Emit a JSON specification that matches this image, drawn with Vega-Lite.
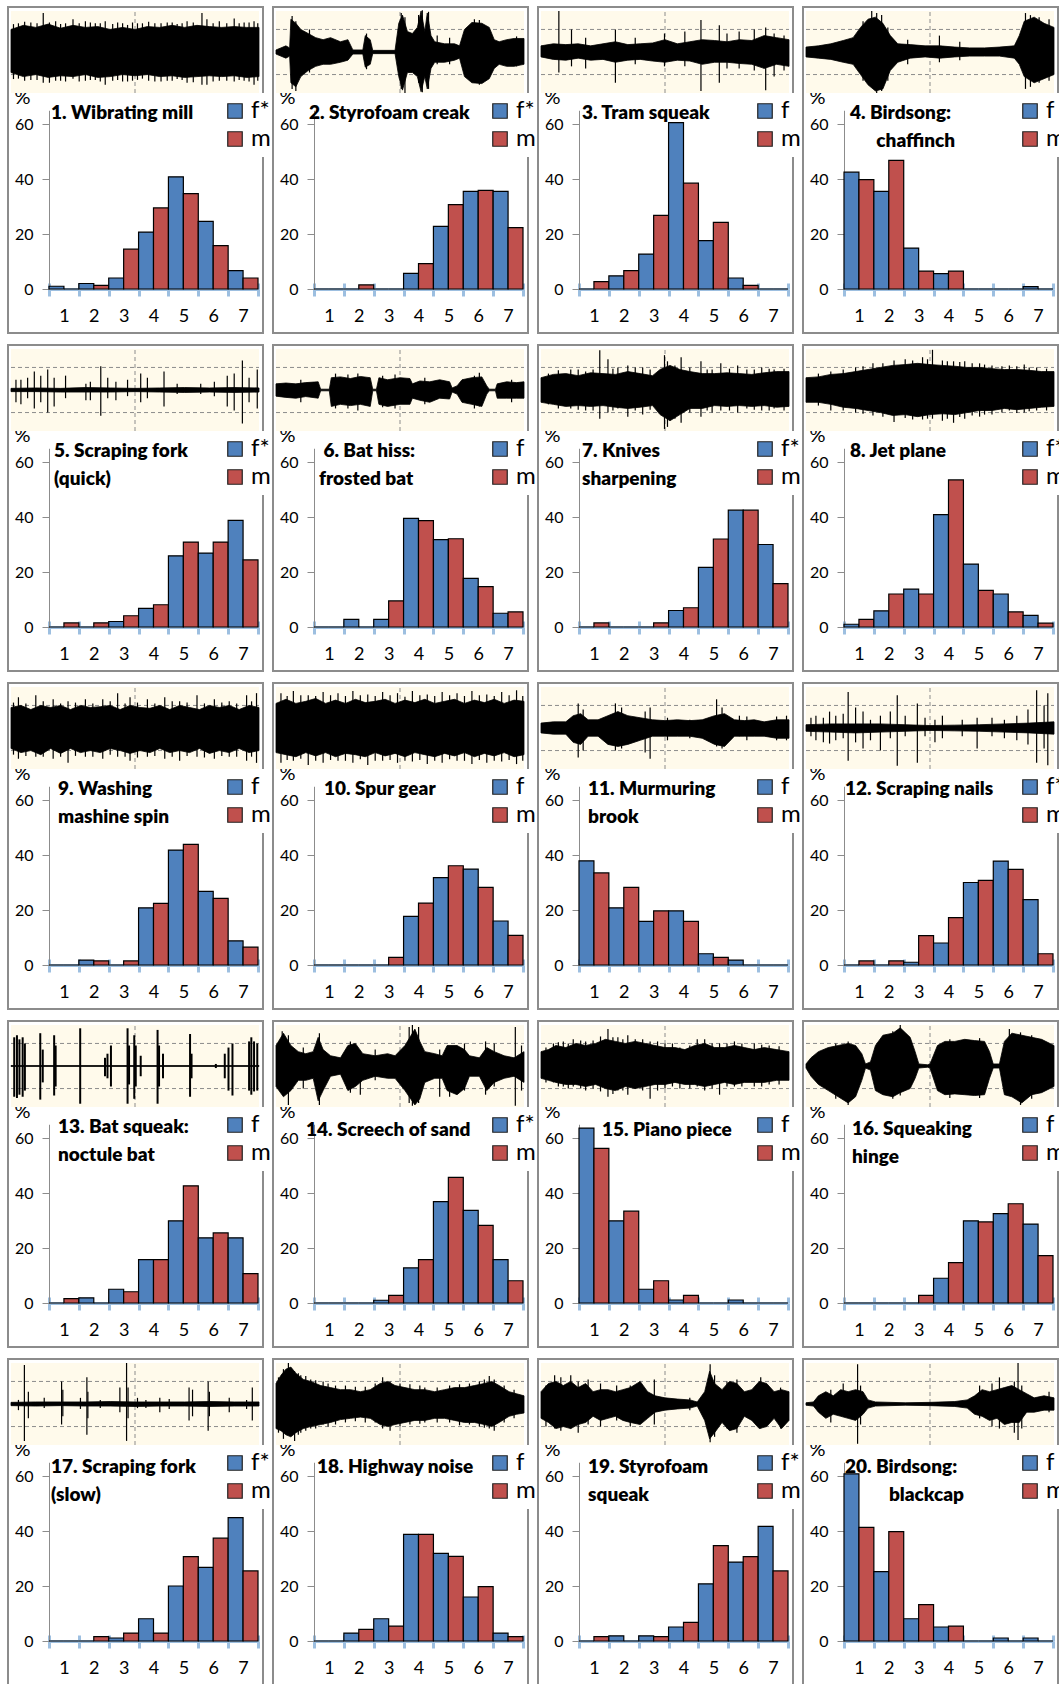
{"$schema":"https://vega.github.io/schema/vega-lite/v6.json",
"padding":{"left":7,"top":6,"right":0,"bottom":0},
"background":"#ffffff",
"bounds":"flush",
"datasets":{
"b":[
{"p":1,"c":1,"f":1,"m":0},{"p":1,"c":2,"f":2,"m":1.3},{"p":1,"c":3,"f":4,"m":14.5},{"p":1,"c":4,"f":20.7,"m":29.5},{"p":1,"c":5,"f":40.8,"m":34.7},{"p":1,"c":6,"f":24.6,"m":15.8},{"p":1,"c":7,"f":6.7,"m":4},
{"p":2,"c":1,"f":0,"m":0},{"p":2,"c":2,"f":0,"m":1.5},{"p":2,"c":3,"f":0,"m":0},{"p":2,"c":4,"f":5.7,"m":9.2},{"p":2,"c":5,"f":22.8,"m":30.7},{"p":2,"c":6,"f":35.5,"m":35.9},{"p":2,"c":7,"f":35.5,"m":22.3},
{"p":3,"c":1,"f":0,"m":2.7},{"p":3,"c":2,"f":4.8,"m":6.7},{"p":3,"c":3,"f":12.7,"m":26.8},{"p":3,"c":4,"f":60.5,"m":38.5},{"p":3,"c":5,"f":17.6,"m":24.2},{"p":3,"c":6,"f":4,"m":1.3},{"p":3,"c":7,"f":0,"m":0},
{"p":4,"c":1,"f":42.5,"m":39.8},{"p":4,"c":2,"f":35.5,"m":46.8},{"p":4,"c":3,"f":14.9,"m":6.5},{"p":4,"c":4,"f":5.6,"m":6.5},{"p":4,"c":5,"f":0,"m":0},{"p":4,"c":6,"f":0,"m":0},{"p":4,"c":7,"f":0.9,"m":0},
{"p":5,"c":1,"f":0,"m":1.5},{"p":5,"c":2,"f":0,"m":1.5},{"p":5,"c":3,"f":2,"m":4.1},{"p":5,"c":4,"f":6.8,"m":8.1},{"p":5,"c":5,"f":25.9,"m":30.9},{"p":5,"c":6,"f":26.9,"m":30.9},{"p":5,"c":7,"f":38.8,"m":24.4},
{"p":6,"c":1,"f":0,"m":0},{"p":6,"c":2,"f":2.8,"m":0},{"p":6,"c":3,"f":2.8,"m":9.5},{"p":6,"c":4,"f":39.5,"m":38.7},{"p":6,"c":5,"f":31.8,"m":32.1},{"p":6,"c":6,"f":17.7,"m":14.7},{"p":6,"c":7,"f":5,"m":5.5},
{"p":7,"c":1,"f":0,"m":1.5},{"p":7,"c":2,"f":0,"m":0},{"p":7,"c":3,"f":0,"m":1.5},{"p":7,"c":4,"f":6,"m":7},{"p":7,"c":5,"f":21.7,"m":32},{"p":7,"c":6,"f":42.5,"m":42.5},{"p":7,"c":7,"f":30,"m":15.8},
{"p":8,"c":1,"f":1,"m":2.8},{"p":8,"c":2,"f":5.9,"m":12},{"p":8,"c":3,"f":13.8,"m":12},{"p":8,"c":4,"f":40.9,"m":53.5},{"p":8,"c":5,"f":22.9,"m":13.3},{"p":8,"c":6,"f":12,"m":5.5},{"p":8,"c":7,"f":4.2,"m":1.4},
{"p":9,"c":1,"f":0,"m":0},{"p":9,"c":2,"f":1.8,"m":1.5},{"p":9,"c":3,"f":0,"m":1.5},{"p":9,"c":4,"f":20.8,"m":22.4},{"p":9,"c":5,"f":41.8,"m":43.9},{"p":9,"c":6,"f":26.8,"m":24.2},{"p":9,"c":7,"f":8.8,"m":6.5},
{"p":10,"c":1,"f":0,"m":0},{"p":10,"c":2,"f":0,"m":0},{"p":10,"c":3,"f":0,"m":2.8},{"p":10,"c":4,"f":17.7,"m":22.5},{"p":10,"c":5,"f":31.8,"m":36.1},{"p":10,"c":6,"f":34.9,"m":28.2},{"p":10,"c":7,"f":16,"m":10.8},
{"p":11,"c":1,"f":37.9,"m":33.5},{"p":11,"c":2,"f":20.8,"m":28.2},{"p":11,"c":3,"f":15.9,"m":19.7},{"p":11,"c":4,"f":19.7,"m":15.9},{"p":11,"c":5,"f":4.1,"m":2.8},{"p":11,"c":6,"f":1.8,"m":0},{"p":11,"c":7,"f":0,"m":0},
{"p":12,"c":1,"f":0,"m":1.5},{"p":12,"c":2,"f":0,"m":1.5},{"p":12,"c":3,"f":1,"m":10.7},{"p":12,"c":4,"f":8,"m":17.2},{"p":12,"c":5,"f":30,"m":30.8},{"p":12,"c":6,"f":37.8,"m":34.8},{"p":12,"c":7,"f":23.8,"m":4.1},
{"p":13,"c":1,"f":0,"m":1.6},{"p":13,"c":2,"f":1.9,"m":0},{"p":13,"c":3,"f":5,"m":4.1},{"p":13,"c":4,"f":15.8,"m":15.8},{"p":13,"c":5,"f":29.9,"m":42.6},{"p":13,"c":6,"f":23.7,"m":25.5},{"p":13,"c":7,"f":23.7,"m":10.7},
{"p":14,"c":1,"f":0,"m":0},{"p":14,"c":2,"f":0,"m":0},{"p":14,"c":3,"f":1,"m":2.8},{"p":14,"c":4,"f":12.8,"m":15.8},{"p":14,"c":5,"f":36.9,"m":45.7},{"p":14,"c":6,"f":33.7,"m":28.2},{"p":14,"c":7,"f":15.8,"m":8.1},
{"p":15,"c":1,"f":63.6,"m":56.2},{"p":15,"c":2,"f":29.9,"m":33.4},{"p":15,"c":3,"f":5,"m":8.1},{"p":15,"c":4,"f":1.1,"m":2.8},{"p":15,"c":5,"f":0,"m":0},{"p":15,"c":6,"f":1.1,"m":0},{"p":15,"c":7,"f":0,"m":0},
{"p":16,"c":1,"f":0,"m":0},{"p":16,"c":2,"f":0,"m":0},{"p":16,"c":3,"f":0,"m":2.8},{"p":16,"c":4,"f":9,"m":14.7},{"p":16,"c":5,"f":29.9,"m":29.5},{"p":16,"c":6,"f":32.5,"m":36.1},{"p":16,"c":7,"f":28.7,"m":17.2},
{"p":17,"c":1,"f":0,"m":0},{"p":17,"c":2,"f":0,"m":1.6},{"p":17,"c":3,"f":1.1,"m":2.9},{"p":17,"c":4,"f":8.1,"m":2.9},{"p":17,"c":5,"f":20,"m":30.7},{"p":17,"c":6,"f":26.8,"m":37.4},{"p":17,"c":7,"f":44.9,"m":25.5},
{"p":18,"c":1,"f":0,"m":0},{"p":18,"c":2,"f":2.9,"m":4.2},{"p":18,"c":3,"f":8.1,"m":5.4},{"p":18,"c":4,"f":38.8,"m":38.8},{"p":18,"c":5,"f":31.9,"m":30.8},{"p":18,"c":6,"f":16,"m":19.8},{"p":18,"c":7,"f":2.9,"m":1.6},
{"p":19,"c":1,"f":0,"m":1.6},{"p":19,"c":2,"f":1.9,"m":0},{"p":19,"c":3,"f":1.9,"m":1.6},{"p":19,"c":4,"f":5.1,"m":6.8},{"p":19,"c":5,"f":20.8,"m":34.7},{"p":19,"c":6,"f":28.7,"m":30.7},{"p":19,"c":7,"f":41.7,"m":25.5},
{"p":20,"c":1,"f":60.8,"m":41.3},{"p":20,"c":2,"f":25.2,"m":39.8},{"p":20,"c":3,"f":8.1,"m":13.2},{"p":20,"c":4,"f":5.1,"m":5.4},{"p":20,"c":5,"f":0,"m":0},{"p":20,"c":6,"f":1.1,"m":0},{"p":20,"c":7,"f":1.1,"m":0}
],
"w":[
{"p":1,"t":0,"h":0.55,"l":-0.5},{"p":1,"t":5,"h":0.65,"l":-0.6},{"p":1,"t":10,"h":0.6,"l":-0.55},{"p":1,"t":15,"h":0.68,"l":-0.62},{"p":1,"t":20,"h":0.58,"l":-0.58},{"p":1,"t":25,"h":0.65,"l":-0.6},{"p":1,"t":30,"h":0.6,"l":-0.55},{"p":1,"t":35,"h":0.62,"l":-0.62},{"p":1,"t":40,"h":0.55,"l":-0.6},{"p":1,"t":45,"h":0.6,"l":-0.55},{"p":1,"t":50,"h":0.55,"l":-0.58},{"p":1,"t":55,"h":0.62,"l":-0.55},{"p":1,"t":60,"h":0.6,"l":-0.6},{"p":1,"t":65,"h":0.65,"l":-0.58},{"p":1,"t":70,"h":0.6,"l":-0.62},{"p":1,"t":75,"h":0.65,"l":-0.6},{"p":1,"t":80,"h":0.62,"l":-0.58},{"p":1,"t":85,"h":0.6,"l":-0.6},{"p":1,"t":90,"h":0.62,"l":-0.58},{"p":1,"t":95,"h":0.6,"l":-0.62},{"p":1,"t":100,"h":0.6,"l":-0.6},
{"p":2,"t":0,"h":0.05,"l":-0.05},{"p":2,"t":4,"h":0.15,"l":-0.15},{"p":2,"t":5.5,"h":0.1,"l":-0.1},{"p":2,"t":6,"h":0.8,"l":-0.75},{"p":2,"t":8,"h":0.7,"l":-0.85},{"p":2,"t":10,"h":0.55,"l":-0.6},{"p":2,"t":13,"h":0.45,"l":-0.45},{"p":2,"t":16,"h":0.35,"l":-0.35},{"p":2,"t":19,"h":0.3,"l":-0.3},{"p":2,"t":22,"h":0.35,"l":-0.3},{"p":2,"t":26,"h":0.25,"l":-0.25},{"p":2,"t":29,"h":0.3,"l":-0.2},{"p":2,"t":31,"h":0.05,"l":-0.05},{"p":2,"t":35,"h":0.05,"l":-0.05},{"p":2,"t":36,"h":0.4,"l":-0.37},{"p":2,"t":38,"h":0.3,"l":-0.3},{"p":2,"t":39,"h":0.04,"l":-0.04},{"p":2,"t":48,"h":0.04,"l":-0.04},{"p":2,"t":49.5,"h":0.7,"l":-0.6},{"p":2,"t":51,"h":0.9,"l":-0.93},{"p":2,"t":53,"h":0.5,"l":-0.5},{"p":2,"t":55,"h":0.45,"l":-0.5},{"p":2,"t":57,"h":0.6,"l":-0.6},{"p":2,"t":58.5,"h":1,"l":-0.97},{"p":2,"t":60,"h":0.5,"l":-0.6},{"p":2,"t":61,"h":0.95,"l":-0.9},{"p":2,"t":62.5,"h":0.4,"l":-0.4},{"p":2,"t":64,"h":0.25,"l":-0.25},{"p":2,"t":68,"h":0.2,"l":-0.25},{"p":2,"t":72,"h":0.2,"l":-0.2},{"p":2,"t":74,"h":0.15,"l":-0.15},{"p":2,"t":76,"h":0.55,"l":-0.6},{"p":2,"t":79,"h":0.72,"l":-0.75},{"p":2,"t":83,"h":0.7,"l":-0.77},{"p":2,"t":86,"h":0.6,"l":-0.65},{"p":2,"t":88,"h":0.3,"l":-0.4},{"p":2,"t":90,"h":0.25,"l":-0.3},{"p":2,"t":93,"h":0.3,"l":-0.35},{"p":2,"t":96,"h":0.33,"l":-0.35},{"p":2,"t":100,"h":0.33,"l":-0.3},
{"p":3,"t":0,"h":0.15,"l":-0.12},{"p":3,"t":5,"h":0.2,"l":-0.18},{"p":3,"t":10,"h":0.18,"l":-0.2},{"p":3,"t":15,"h":0.2,"l":-0.15},{"p":3,"t":20,"h":0.15,"l":-0.2},{"p":3,"t":25,"h":0.2,"l":-0.18},{"p":3,"t":30,"h":0.25,"l":-0.25},{"p":3,"t":35,"h":0.18,"l":-0.2},{"p":3,"t":40,"h":0.2,"l":-0.18},{"p":3,"t":45,"h":0.22,"l":-0.22},{"p":3,"t":50,"h":0.3,"l":-0.25},{"p":3,"t":55,"h":0.2,"l":-0.2},{"p":3,"t":60,"h":0.25,"l":-0.22},{"p":3,"t":65,"h":0.3,"l":-0.3},{"p":3,"t":70,"h":0.28,"l":-0.25},{"p":3,"t":75,"h":0.25,"l":-0.25},{"p":3,"t":80,"h":0.3,"l":-0.28},{"p":3,"t":85,"h":0.28,"l":-0.3},{"p":3,"t":90,"h":0.4,"l":-0.4},{"p":3,"t":95,"h":0.35,"l":-0.3},{"p":3,"t":100,"h":0.3,"l":-0.35},
{"p":4,"t":0,"h":0.12,"l":-0.12},{"p":4,"t":5,"h":0.15,"l":-0.15},{"p":4,"t":10,"h":0.2,"l":-0.18},{"p":4,"t":15,"h":0.28,"l":-0.25},{"p":4,"t":19,"h":0.35,"l":-0.3},{"p":4,"t":22,"h":0.6,"l":-0.55},{"p":4,"t":25,"h":0.8,"l":-0.8},{"p":4,"t":28,"h":0.85,"l":-0.95},{"p":4,"t":31,"h":0.7,"l":-0.9},{"p":4,"t":34,"h":0.4,"l":-0.45},{"p":4,"t":37,"h":0.2,"l":-0.25},{"p":4,"t":42,"h":0.18,"l":-0.15},{"p":4,"t":48,"h":0.15,"l":-0.12},{"p":4,"t":54,"h":0.15,"l":-0.15},{"p":4,"t":60,"h":0.12,"l":-0.12},{"p":4,"t":66,"h":0.1,"l":-0.1},{"p":4,"t":72,"h":0.1,"l":-0.1},{"p":4,"t":78,"h":0.12,"l":-0.1},{"p":4,"t":84,"h":0.15,"l":-0.15},{"p":4,"t":86,"h":0.4,"l":-0.3},{"p":4,"t":88,"h":0.75,"l":-0.6},{"p":4,"t":92,"h":0.85,"l":-0.75},{"p":4,"t":96,"h":0.7,"l":-0.65},{"p":4,"t":100,"h":0.6,"l":-0.55},
{"p":5,"t":0,"h":0.04,"l":-0.04},{"p":5,"t":10,"h":0.05,"l":-0.04},{"p":5,"t":20,"h":0.04,"l":-0.05},{"p":5,"t":30,"h":0.06,"l":-0.05},{"p":5,"t":40,"h":0.05,"l":-0.05},{"p":5,"t":50,"h":0.04,"l":-0.04},{"p":5,"t":60,"h":0.05,"l":-0.05},{"p":5,"t":70,"h":0.06,"l":-0.06},{"p":5,"t":80,"h":0.05,"l":-0.05},{"p":5,"t":90,"h":0.06,"l":-0.06},{"p":5,"t":100,"h":0.05,"l":-0.05},
{"p":6,"t":0,"h":0.15,"l":-0.15},{"p":6,"t":4,"h":0.17,"l":-0.18},{"p":6,"t":8,"h":0.15,"l":-0.2},{"p":6,"t":12,"h":0.18,"l":-0.16},{"p":6,"t":17,"h":0.2,"l":-0.2},{"p":6,"t":18,"h":0.02,"l":-0.02},{"p":6,"t":21.5,"h":0.02,"l":-0.02},{"p":6,"t":22.3,"h":0.3,"l":-0.4},{"p":6,"t":26,"h":0.32,"l":-0.35},{"p":6,"t":30,"h":0.28,"l":-0.38},{"p":6,"t":34,"h":0.33,"l":-0.35},{"p":6,"t":38,"h":0.3,"l":-0.4},{"p":6,"t":39,"h":0.02,"l":-0.02},{"p":6,"t":40.5,"h":0.02,"l":-0.02},{"p":6,"t":41.5,"h":0.3,"l":-0.35},{"p":6,"t":45,"h":0.25,"l":-0.4},{"p":6,"t":50,"h":0.3,"l":-0.35},{"p":6,"t":54,"h":0.28,"l":-0.35},{"p":6,"t":55,"h":0.15,"l":-0.2},{"p":6,"t":58,"h":0.22,"l":-0.25},{"p":6,"t":62,"h":0.2,"l":-0.3},{"p":6,"t":66,"h":0.25,"l":-0.2},{"p":6,"t":70,"h":0.2,"l":-0.22},{"p":6,"t":71,"h":0.05,"l":-0.05},{"p":6,"t":73,"h":0.1,"l":-0.1},{"p":6,"t":75,"h":0.25,"l":-0.3},{"p":6,"t":79,"h":0.3,"l":-0.35},{"p":6,"t":83,"h":0.32,"l":-0.4},{"p":6,"t":85,"h":0.1,"l":-0.1},{"p":6,"t":86,"h":0.02,"l":-0.02},{"p":6,"t":88.5,"h":0.02,"l":-0.02},{"p":6,"t":89.2,"h":0.15,"l":-0.2},{"p":6,"t":93,"h":0.2,"l":-0.2},{"p":6,"t":97,"h":0.18,"l":-0.2},{"p":6,"t":100,"h":0.2,"l":-0.2},
{"p":7,"t":0,"h":0.3,"l":-0.3},{"p":7,"t":5,"h":0.38,"l":-0.35},{"p":7,"t":10,"h":0.4,"l":-0.4},{"p":7,"t":15,"h":0.35,"l":-0.38},{"p":7,"t":20,"h":0.42,"l":-0.4},{"p":7,"t":25,"h":0.4,"l":-0.38},{"p":7,"t":30,"h":0.38,"l":-0.42},{"p":7,"t":35,"h":0.45,"l":-0.45},{"p":7,"t":40,"h":0.4,"l":-0.42},{"p":7,"t":45,"h":0.35,"l":-0.38},{"p":7,"t":48,"h":0.5,"l":-0.6},{"p":7,"t":52,"h":0.6,"l":-0.75},{"p":7,"t":56,"h":0.5,"l":-0.6},{"p":7,"t":60,"h":0.45,"l":-0.45},{"p":7,"t":65,"h":0.4,"l":-0.45},{"p":7,"t":70,"h":0.4,"l":-0.38},{"p":7,"t":75,"h":0.42,"l":-0.4},{"p":7,"t":80,"h":0.4,"l":-0.38},{"p":7,"t":85,"h":0.38,"l":-0.4},{"p":7,"t":90,"h":0.42,"l":-0.38},{"p":7,"t":95,"h":0.45,"l":-0.42},{"p":7,"t":100,"h":0.45,"l":-0.4},
{"p":8,"t":0,"h":0.3,"l":-0.3},{"p":8,"t":5,"h":0.32,"l":-0.3},{"p":8,"t":10,"h":0.38,"l":-0.35},{"p":8,"t":15,"h":0.4,"l":-0.42},{"p":8,"t":20,"h":0.45,"l":-0.45},{"p":8,"t":25,"h":0.5,"l":-0.5},{"p":8,"t":30,"h":0.55,"l":-0.55},{"p":8,"t":35,"h":0.6,"l":-0.62},{"p":8,"t":40,"h":0.62,"l":-0.6},{"p":8,"t":45,"h":0.65,"l":-0.65},{"p":8,"t":50,"h":0.62,"l":-0.6},{"p":8,"t":55,"h":0.6,"l":-0.58},{"p":8,"t":60,"h":0.58,"l":-0.6},{"p":8,"t":65,"h":0.55,"l":-0.55},{"p":8,"t":70,"h":0.55,"l":-0.5},{"p":8,"t":75,"h":0.52,"l":-0.5},{"p":8,"t":80,"h":0.5,"l":-0.45},{"p":8,"t":85,"h":0.5,"l":-0.48},{"p":8,"t":90,"h":0.48,"l":-0.45},{"p":8,"t":95,"h":0.45,"l":-0.42},{"p":8,"t":100,"h":0.45,"l":-0.4},
{"p":9,"t":0,"h":0.5,"l":-0.5},{"p":9,"t":4,"h":0.55,"l":-0.6},{"p":9,"t":8,"h":0.45,"l":-0.55},{"p":9,"t":12,"h":0.55,"l":-0.65},{"p":9,"t":16,"h":0.5,"l":-0.5},{"p":9,"t":20,"h":0.55,"l":-0.62},{"p":9,"t":24,"h":0.45,"l":-0.5},{"p":9,"t":28,"h":0.55,"l":-0.6},{"p":9,"t":32,"h":0.5,"l":-0.55},{"p":9,"t":36,"h":0.52,"l":-0.6},{"p":9,"t":40,"h":0.55,"l":-0.5},{"p":9,"t":44,"h":0.45,"l":-0.55},{"p":9,"t":48,"h":0.55,"l":-0.62},{"p":9,"t":52,"h":0.5,"l":-0.55},{"p":9,"t":56,"h":0.48,"l":-0.6},{"p":9,"t":60,"h":0.55,"l":-0.5},{"p":9,"t":64,"h":0.45,"l":-0.6},{"p":9,"t":68,"h":0.55,"l":-0.55},{"p":9,"t":72,"h":0.5,"l":-0.6},{"p":9,"t":76,"h":0.45,"l":-0.5},{"p":9,"t":80,"h":0.55,"l":-0.62},{"p":9,"t":84,"h":0.5,"l":-0.55},{"p":9,"t":88,"h":0.55,"l":-0.6},{"p":9,"t":92,"h":0.45,"l":-0.5},{"p":9,"t":96,"h":0.55,"l":-0.6},{"p":9,"t":100,"h":0.5,"l":-0.55},
{"p":10,"t":0,"h":0.6,"l":-0.6},{"p":10,"t":4,"h":0.7,"l":-0.65},{"p":10,"t":8,"h":0.6,"l":-0.7},{"p":10,"t":12,"h":0.65,"l":-0.6},{"p":10,"t":16,"h":0.72,"l":-0.68},{"p":10,"t":20,"h":0.6,"l":-0.6},{"p":10,"t":24,"h":0.68,"l":-0.7},{"p":10,"t":28,"h":0.6,"l":-0.62},{"p":10,"t":32,"h":0.7,"l":-0.65},{"p":10,"t":36,"h":0.62,"l":-0.7},{"p":10,"t":40,"h":0.65,"l":-0.6},{"p":10,"t":44,"h":0.7,"l":-0.68},{"p":10,"t":48,"h":0.6,"l":-0.62},{"p":10,"t":52,"h":0.68,"l":-0.7},{"p":10,"t":56,"h":0.62,"l":-0.6},{"p":10,"t":60,"h":0.7,"l":-0.65},{"p":10,"t":64,"h":0.6,"l":-0.7},{"p":10,"t":68,"h":0.65,"l":-0.62},{"p":10,"t":72,"h":0.7,"l":-0.68},{"p":10,"t":76,"h":0.6,"l":-0.6},{"p":10,"t":80,"h":0.68,"l":-0.7},{"p":10,"t":84,"h":0.62,"l":-0.62},{"p":10,"t":88,"h":0.7,"l":-0.68},{"p":10,"t":92,"h":0.6,"l":-0.6},{"p":10,"t":96,"h":0.68,"l":-0.7},{"p":10,"t":100,"h":0.65,"l":-0.65},
{"p":11,"t":0,"h":0.12,"l":-0.12},{"p":11,"t":5,"h":0.15,"l":-0.15},{"p":11,"t":10,"h":0.15,"l":-0.15},{"p":11,"t":13,"h":0.3,"l":-0.35},{"p":11,"t":16,"h":0.35,"l":-0.4},{"p":11,"t":19,"h":0.2,"l":-0.2},{"p":11,"t":23,"h":0.2,"l":-0.2},{"p":11,"t":27,"h":0.3,"l":-0.4},{"p":11,"t":31,"h":0.4,"l":-0.45},{"p":11,"t":35,"h":0.3,"l":-0.4},{"p":11,"t":40,"h":0.25,"l":-0.3},{"p":11,"t":45,"h":0.2,"l":-0.2},{"p":11,"t":50,"h":0.18,"l":-0.2},{"p":11,"t":55,"h":0.2,"l":-0.2},{"p":11,"t":60,"h":0.18,"l":-0.2},{"p":11,"t":65,"h":0.2,"l":-0.25},{"p":11,"t":70,"h":0.3,"l":-0.4},{"p":11,"t":74,"h":0.35,"l":-0.45},{"p":11,"t":78,"h":0.2,"l":-0.2},{"p":11,"t":82,"h":0.18,"l":-0.2},{"p":11,"t":86,"h":0.2,"l":-0.2},{"p":11,"t":90,"h":0.15,"l":-0.2},{"p":11,"t":95,"h":0.2,"l":-0.25},{"p":11,"t":100,"h":0.2,"l":-0.25},
{"p":12,"t":0,"h":0.08,"l":-0.08},{"p":12,"t":10,"h":0.1,"l":-0.1},{"p":12,"t":20,"h":0.1,"l":-0.12},{"p":12,"t":30,"h":0.1,"l":-0.1},{"p":12,"t":40,"h":0.08,"l":-0.08},{"p":12,"t":50,"h":0.06,"l":-0.06},{"p":12,"t":60,"h":0.07,"l":-0.07},{"p":12,"t":70,"h":0.08,"l":-0.08},{"p":12,"t":80,"h":0.1,"l":-0.1},{"p":12,"t":90,"h":0.12,"l":-0.12},{"p":12,"t":100,"h":0.15,"l":-0.15},
{"p":13,"t":0,"h":0.01,"l":-0.01},{"p":13,"t":100,"h":0.01,"l":-0.01},
{"p":14,"t":0,"h":0.5,"l":-0.5},{"p":14,"t":3,"h":0.8,"l":-0.75},{"p":14,"t":6,"h":0.5,"l":-0.6},{"p":14,"t":9,"h":0.35,"l":-0.35},{"p":14,"t":12,"h":0.3,"l":-0.35},{"p":14,"t":15,"h":0.35,"l":-0.3},{"p":14,"t":17,"h":0.7,"l":-0.85},{"p":14,"t":19,"h":0.4,"l":-0.6},{"p":14,"t":22,"h":0.25,"l":-0.25},{"p":14,"t":26,"h":0.2,"l":-0.2},{"p":14,"t":29,"h":0.5,"l":-0.6},{"p":14,"t":32,"h":0.55,"l":-0.5},{"p":14,"t":35,"h":0.3,"l":-0.35},{"p":14,"t":40,"h":0.25,"l":-0.25},{"p":14,"t":45,"h":0.3,"l":-0.3},{"p":14,"t":48,"h":0.25,"l":-0.3},{"p":14,"t":52,"h":0.5,"l":-0.6},{"p":14,"t":56,"h":0.9,"l":-0.95},{"p":14,"t":58,"h":0.6,"l":-0.8},{"p":14,"t":60,"h":0.35,"l":-0.4},{"p":14,"t":64,"h":0.3,"l":-0.3},{"p":14,"t":67,"h":0.25,"l":-0.3},{"p":14,"t":69,"h":0.5,"l":-0.6},{"p":14,"t":73,"h":0.5,"l":-0.7},{"p":14,"t":76,"h":0.4,"l":-0.55},{"p":14,"t":78,"h":0.25,"l":-0.25},{"p":14,"t":82,"h":0.2,"l":-0.25},{"p":14,"t":85,"h":0.45,"l":-0.6},{"p":14,"t":88,"h":0.35,"l":-0.4},{"p":14,"t":92,"h":0.25,"l":-0.3},{"p":14,"t":96,"h":0.2,"l":-0.25},{"p":14,"t":100,"h":0.35,"l":-0.4},
{"p":15,"t":0,"h":0.35,"l":-0.3},{"p":15,"t":3,"h":0.4,"l":-0.35},{"p":15,"t":6,"h":0.5,"l":-0.4},{"p":15,"t":10,"h":0.45,"l":-0.45},{"p":15,"t":14,"h":0.55,"l":-0.45},{"p":15,"t":18,"h":0.5,"l":-0.5},{"p":15,"t":22,"h":0.55,"l":-0.45},{"p":15,"t":26,"h":0.65,"l":-0.55},{"p":15,"t":30,"h":0.6,"l":-0.6},{"p":15,"t":34,"h":0.55,"l":-0.5},{"p":15,"t":38,"h":0.6,"l":-0.55},{"p":15,"t":42,"h":0.55,"l":-0.5},{"p":15,"t":46,"h":0.5,"l":-0.45},{"p":15,"t":50,"h":0.45,"l":-0.45},{"p":15,"t":54,"h":0.45,"l":-0.4},{"p":15,"t":58,"h":0.4,"l":-0.45},{"p":15,"t":62,"h":0.5,"l":-0.45},{"p":15,"t":66,"h":0.55,"l":-0.5},{"p":15,"t":70,"h":0.45,"l":-0.45},{"p":15,"t":74,"h":0.45,"l":-0.4},{"p":15,"t":78,"h":0.5,"l":-0.45},{"p":15,"t":82,"h":0.45,"l":-0.4},{"p":15,"t":86,"h":0.4,"l":-0.4},{"p":15,"t":90,"h":0.45,"l":-0.4},{"p":15,"t":95,"h":0.4,"l":-0.35},{"p":15,"t":100,"h":0.35,"l":-0.35},
{"p":16,"t":0,"h":0.05,"l":-0.05},{"p":16,"t":2,"h":0.2,"l":-0.25},{"p":16,"t":5,"h":0.35,"l":-0.45},{"p":16,"t":9,"h":0.45,"l":-0.6},{"p":16,"t":13,"h":0.5,"l":-0.75},{"p":16,"t":17,"h":0.55,"l":-0.9},{"p":16,"t":20,"h":0.5,"l":-0.75},{"p":16,"t":22.5,"h":0.3,"l":-0.35},{"p":16,"t":24,"h":0.05,"l":-0.05},{"p":16,"t":26,"h":0.1,"l":-0.1},{"p":16,"t":28,"h":0.5,"l":-0.6},{"p":16,"t":31,"h":0.75,"l":-0.7},{"p":16,"t":35,"h":0.8,"l":-0.75},{"p":16,"t":38,"h":0.93,"l":-0.65},{"p":16,"t":42,"h":0.7,"l":-0.55},{"p":16,"t":44,"h":0.35,"l":-0.3},{"p":16,"t":45.5,"h":0.05,"l":-0.05},{"p":16,"t":49,"h":0.03,"l":-0.03},{"p":16,"t":50,"h":0.05,"l":-0.05},{"p":16,"t":53,"h":0.5,"l":-0.6},{"p":16,"t":56,"h":0.6,"l":-0.7},{"p":16,"t":60,"h":0.6,"l":-0.68},{"p":16,"t":64,"h":0.65,"l":-0.7},{"p":16,"t":68,"h":0.62,"l":-0.72},{"p":16,"t":72,"h":0.6,"l":-0.7},{"p":16,"t":74,"h":0.35,"l":-0.3},{"p":16,"t":75.5,"h":0.05,"l":-0.05},{"p":16,"t":78,"h":0.05,"l":-0.05},{"p":16,"t":80,"h":0.6,"l":-0.7},{"p":16,"t":83,"h":0.8,"l":-0.75},{"p":16,"t":87,"h":0.75,"l":-0.9},{"p":16,"t":91,"h":0.7,"l":-0.7},{"p":16,"t":95,"h":0.65,"l":-0.65},{"p":16,"t":100,"h":0.5,"l":-0.5},
{"p":17,"t":0,"h":0.04,"l":-0.04},{"p":17,"t":10,"h":0.05,"l":-0.05},{"p":17,"t":20,"h":0.05,"l":-0.04},{"p":17,"t":30,"h":0.05,"l":-0.05},{"p":17,"t":40,"h":0.06,"l":-0.05},{"p":17,"t":50,"h":0.05,"l":-0.06},{"p":17,"t":60,"h":0.05,"l":-0.05},{"p":17,"t":70,"h":0.05,"l":-0.05},{"p":17,"t":80,"h":0.06,"l":-0.06},{"p":17,"t":90,"h":0.05,"l":-0.05},{"p":17,"t":100,"h":0.05,"l":-0.05},
{"p":18,"t":0,"h":0.5,"l":-0.6},{"p":18,"t":2,"h":0.7,"l":-0.65},{"p":18,"t":4,"h":0.85,"l":-0.75},{"p":18,"t":6,"h":0.9,"l":-0.8},{"p":18,"t":8,"h":0.75,"l":-0.7},{"p":18,"t":11,"h":0.6,"l":-0.6},{"p":18,"t":14,"h":0.55,"l":-0.55},{"p":18,"t":18,"h":0.45,"l":-0.5},{"p":18,"t":22,"h":0.4,"l":-0.45},{"p":18,"t":26,"h":0.35,"l":-0.38},{"p":18,"t":30,"h":0.35,"l":-0.35},{"p":18,"t":34,"h":0.3,"l":-0.32},{"p":18,"t":38,"h":0.35,"l":-0.35},{"p":18,"t":42,"h":0.5,"l":-0.5},{"p":18,"t":45,"h":0.55,"l":-0.55},{"p":18,"t":48,"h":0.45,"l":-0.5},{"p":18,"t":52,"h":0.4,"l":-0.45},{"p":18,"t":56,"h":0.35,"l":-0.4},{"p":18,"t":60,"h":0.35,"l":-0.4},{"p":18,"t":64,"h":0.3,"l":-0.35},{"p":18,"t":68,"h":0.35,"l":-0.35},{"p":18,"t":72,"h":0.4,"l":-0.4},{"p":18,"t":76,"h":0.4,"l":-0.45},{"p":18,"t":80,"h":0.45,"l":-0.45},{"p":18,"t":84,"h":0.5,"l":-0.5},{"p":18,"t":87,"h":0.55,"l":-0.55},{"p":18,"t":90,"h":0.45,"l":-0.45},{"p":18,"t":94,"h":0.3,"l":-0.3},{"p":18,"t":97,"h":0.25,"l":-0.25},{"p":18,"t":100,"h":0.2,"l":-0.22},
{"p":19,"t":0,"h":0.3,"l":-0.35},{"p":19,"t":3,"h":0.5,"l":-0.45},{"p":19,"t":6,"h":0.55,"l":-0.6},{"p":19,"t":9,"h":0.45,"l":-0.55},{"p":19,"t":12,"h":0.55,"l":-0.6},{"p":19,"t":15,"h":0.4,"l":-0.5},{"p":19,"t":18,"h":0.5,"l":-0.45},{"p":19,"t":21,"h":0.3,"l":-0.3},{"p":19,"t":24,"h":0.35,"l":-0.4},{"p":19,"t":27,"h":0.35,"l":-0.35},{"p":19,"t":30,"h":0.3,"l":-0.3},{"p":19,"t":33,"h":0.35,"l":-0.4},{"p":19,"t":36,"h":0.4,"l":-0.45},{"p":19,"t":40,"h":0.55,"l":-0.5},{"p":19,"t":43,"h":0.3,"l":-0.35},{"p":19,"t":46,"h":0.2,"l":-0.2},{"p":19,"t":50,"h":0.15,"l":-0.15},{"p":19,"t":55,"h":0.12,"l":-0.12},{"p":19,"t":60,"h":0.1,"l":-0.1},{"p":19,"t":63,"h":0.05,"l":-0.05},{"p":19,"t":66,"h":0.3,"l":-0.4},{"p":19,"t":68,"h":0.8,"l":-0.85},{"p":19,"t":70,"h":0.5,"l":-0.7},{"p":19,"t":73,"h":0.35,"l":-0.45},{"p":19,"t":76,"h":0.55,"l":-0.65},{"p":19,"t":79,"h":0.5,"l":-0.6},{"p":19,"t":82,"h":0.3,"l":-0.3},{"p":19,"t":85,"h":0.35,"l":-0.4},{"p":19,"t":88,"h":0.55,"l":-0.6},{"p":19,"t":91,"h":0.5,"l":-0.55},{"p":19,"t":94,"h":0.3,"l":-0.35},{"p":19,"t":97,"h":0.35,"l":-0.6},{"p":19,"t":100,"h":0.3,"l":-0.4},
{"p":20,"t":0,"h":0.03,"l":-0.03},{"p":20,"t":3,"h":0.05,"l":-0.05},{"p":20,"t":5,"h":0.2,"l":-0.2},{"p":20,"t":8,"h":0.3,"l":-0.35},{"p":20,"t":11,"h":0.2,"l":-0.25},{"p":20,"t":14,"h":0.35,"l":-0.3},{"p":20,"t":17,"h":0.3,"l":-0.35},{"p":20,"t":20,"h":0.35,"l":-0.4},{"p":20,"t":23,"h":0.3,"l":-0.25},{"p":20,"t":25,"h":0.1,"l":-0.1},{"p":20,"t":28,"h":0.05,"l":-0.05},{"p":20,"t":40,"h":0.03,"l":-0.03},{"p":20,"t":50,"h":0.04,"l":-0.04},{"p":20,"t":60,"h":0.06,"l":-0.06},{"p":20,"t":65,"h":0.1,"l":-0.1},{"p":20,"t":68,"h":0.2,"l":-0.25},{"p":20,"t":71,"h":0.35,"l":-0.3},{"p":20,"t":74,"h":0.3,"l":-0.4},{"p":20,"t":77,"h":0.35,"l":-0.35},{"p":20,"t":80,"h":0.4,"l":-0.5},{"p":20,"t":83,"h":0.45,"l":-0.45},{"p":20,"t":86,"h":0.35,"l":-0.45},{"p":20,"t":89,"h":0.25,"l":-0.2},{"p":20,"t":92,"h":0.15,"l":-0.2},{"p":20,"t":96,"h":0.2,"l":-0.15},{"p":20,"t":100,"h":0.15,"l":-0.15}
],
"s":[
{"p":1,"t":3,"h":0.7,"l":-0.65},{"p":1,"t":8,"h":0.72,"l":-0.68},{"p":1,"t":13,"h":0.95,"l":-0.75},{"p":1,"t":18,"h":0.75,"l":-0.7},{"p":1,"t":22,"h":0.7,"l":-0.72},{"p":1,"t":25,"h":0.8,"l":-0.65},{"p":1,"t":30,"h":0.75,"l":-0.7},{"p":1,"t":34,"h":0.7,"l":-0.68},{"p":1,"t":38,"h":0.75,"l":-0.8},{"p":1,"t":45,"h":0.7,"l":-0.72},{"p":1,"t":49,"h":0.72,"l":-0.7},{"p":1,"t":53,"h":0.7,"l":-0.65},{"p":1,"t":58,"h":0.7,"l":-0.72},{"p":1,"t":63,"h":0.72,"l":-0.7},{"p":1,"t":67,"h":0.68,"l":-0.66},{"p":1,"t":71,"h":0.75,"l":-0.75},{"p":1,"t":77,"h":0.95,"l":-0.8},{"p":1,"t":79,"h":0.8,"l":-0.8},{"p":1,"t":84,"h":0.75,"l":-0.7},{"p":1,"t":87,"h":0.7,"l":-0.7},{"p":1,"t":90,"h":0.82,"l":-0.72},{"p":1,"t":94,"h":0.72,"l":-0.7},{"p":1,"t":98,"h":0.75,"l":-0.8},
{"p":1,"t":1,"h":0.68,"l":-0.66},{"p":1,"t":5.5,"h":0.74,"l":-0.7},{"p":1,"t":10.5,"h":0.7,"l":-0.68},{"p":1,"t":15.5,"h":0.72,"l":-0.75},{"p":1,"t":20,"h":0.68,"l":-0.7},{"p":1,"t":27.5,"h":0.7,"l":-0.72},{"p":1,"t":32,"h":0.72,"l":-0.68},{"p":1,"t":36,"h":0.7,"l":-0.72},{"p":1,"t":41,"h":0.68,"l":-0.7},{"p":1,"t":43,"h":0.72,"l":-0.68},{"p":1,"t":47,"h":0.66,"l":-0.72},{"p":1,"t":51,"h":0.7,"l":-0.68},{"p":1,"t":55.5,"h":0.74,"l":-0.7},{"p":1,"t":60.5,"h":0.7,"l":-0.72},{"p":1,"t":65,"h":0.72,"l":-0.7},{"p":1,"t":69,"h":0.7,"l":-0.68},{"p":1,"t":73.5,"h":0.72,"l":-0.74},{"p":1,"t":81.5,"h":0.7,"l":-0.72},{"p":1,"t":92,"h":0.7,"l":-0.68},{"p":1,"t":96,"h":0.72,"l":-0.72},{"p":1,"t":99.5,"h":0.7,"l":-0.7},
{"p":2,"t":6.5,"h":0.88,"l":-0.9},{"p":2,"t":8,"h":0.75,"l":-0.95},{"p":2,"t":13.5,"h":0.55,"l":-0.5},{"p":2,"t":36.5,"h":0.45,"l":-0.42},{"p":2,"t":50.5,"h":0.95,"l":-0.9},{"p":2,"t":52,"h":0.85,"l":-1},{"p":2,"t":57.5,"h":0.9,"l":-0.75},{"p":2,"t":59,"h":1.02,"l":-0.98},{"p":2,"t":61.5,"h":0.98,"l":-0.9},{"p":2,"t":65,"h":0.4,"l":-0.3},{"p":2,"t":70,"h":0.35,"l":-0.3},{"p":2,"t":80,"h":0.8,"l":-0.75},{"p":2,"t":82,"h":0.78,"l":-0.8},{"p":2,"t":97,"h":0.38,"l":-0.35},
{"p":3,"t":7.2,"h":1,"l":-0.5},{"p":3,"t":12.3,"h":0.55,"l":-0.35},{"p":3,"t":18,"h":0.35,"l":-0.4},{"p":3,"t":30,"h":0.55,"l":-0.75},{"p":3,"t":38,"h":0.35,"l":-0.3},{"p":3,"t":49.8,"h":0.45,"l":-0.35},{"p":3,"t":58,"h":0.5,"l":-0.35},{"p":3,"t":64.5,"h":0.78,"l":-0.95},{"p":3,"t":71.9,"h":0.65,"l":-0.75},{"p":3,"t":75,"h":0.45,"l":-0.4},{"p":3,"t":79.9,"h":0.5,"l":-0.4},{"p":3,"t":86,"h":0.55,"l":-0.45},{"p":3,"t":90.6,"h":0.6,"l":-0.93},{"p":3,"t":94,"h":0.45,"l":-0.6},{"p":3,"t":98,"h":0.4,"l":-0.45},
{"p":4,"t":23,"h":0.75,"l":-0.7},{"p":4,"t":26.5,"h":1,"l":-0.8},{"p":4,"t":28.5,"h":0.95,"l":-1},{"p":4,"t":30.5,"h":0.9,"l":-0.95},{"p":4,"t":33,"h":0.6,"l":-0.7},{"p":4,"t":41,"h":0.3,"l":-0.3},{"p":4,"t":53.8,"h":0.4,"l":-0.25},{"p":4,"t":62,"h":0.25,"l":-0.2},{"p":4,"t":88.5,"h":0.95,"l":-0.9},{"p":4,"t":90.5,"h":0.9,"l":-0.85},{"p":4,"t":94,"h":0.85,"l":-0.75},{"p":4,"t":98,"h":0.8,"l":-0.7},
{"p":5,"t":2,"h":0.25,"l":-0.3},{"p":5,"t":4,"h":0.25,"l":-0.35},{"p":5,"t":6.7,"h":0.3,"l":-0.2},{"p":5,"t":9.4,"h":0.45,"l":-0.45},{"p":5,"t":12,"h":0.35,"l":-0.3},{"p":5,"t":14.8,"h":0.5,"l":-0.55},{"p":5,"t":17.4,"h":0.3,"l":-0.4},{"p":5,"t":22,"h":0.35,"l":-0.2},{"p":5,"t":30.2,"h":0.15,"l":-0.25},{"p":5,"t":32,"h":0.2,"l":-0.25},{"p":5,"t":36.2,"h":0.58,"l":-0.63},{"p":5,"t":39,"h":0.3,"l":-0.2},{"p":5,"t":42.3,"h":0.2,"l":-0.25},{"p":5,"t":47,"h":0.25,"l":-0.15},{"p":5,"t":52.3,"h":0.4,"l":-0.3},{"p":5,"t":55,"h":0.3,"l":-0.2},{"p":5,"t":61.7,"h":0.45,"l":-0.4},{"p":5,"t":67,"h":0.15,"l":-0.1},{"p":5,"t":76.5,"h":0.15,"l":-0.1},{"p":5,"t":82,"h":0.2,"l":-0.15},{"p":5,"t":87.2,"h":0.35,"l":-0.4},{"p":5,"t":90,"h":0.4,"l":-0.5},{"p":5,"t":93.3,"h":0.72,"l":-0.82},{"p":5,"t":96,"h":0.3,"l":-0.3},{"p":5,"t":99.3,"h":0.5,"l":-0.45},
{"p":6,"t":10,"h":0.25,"l":-0.3},{"p":6,"t":24,"h":0.4,"l":-0.45},{"p":6,"t":29,"h":0.38,"l":-0.45},{"p":6,"t":33,"h":0.4,"l":-0.5},{"p":6,"t":43,"h":0.35,"l":-0.42},{"p":6,"t":48,"h":0.38,"l":-0.45},{"p":6,"t":60,"h":0.3,"l":-0.35},{"p":6,"t":80,"h":0.35,"l":-0.45},{"p":6,"t":82,"h":0.42,"l":-0.4},{"p":6,"t":95,"h":0.25,"l":-0.3},
{"p":7,"t":3,"h":0.4,"l":-0.35},{"p":7,"t":12,"h":0.5,"l":-0.45},{"p":7,"t":18,"h":0.45,"l":-0.5},{"p":7,"t":23.7,"h":0.97,"l":-0.7},{"p":7,"t":27,"h":0.75,"l":-0.55},{"p":7,"t":31,"h":0.55,"l":-0.45},{"p":7,"t":35,"h":0.6,"l":-0.65},{"p":7,"t":41,"h":0.55,"l":-0.6},{"p":7,"t":49.8,"h":0.85,"l":-0.95},{"p":7,"t":51,"h":0.7,"l":-0.9},{"p":7,"t":56.5,"h":0.8,"l":-0.8},{"p":7,"t":64.5,"h":0.7,"l":-0.65},{"p":7,"t":69,"h":0.5,"l":-0.55},{"p":7,"t":72.5,"h":0.65,"l":-0.5},{"p":7,"t":79.3,"h":0.6,"l":-0.55},{"p":7,"t":83,"h":0.5,"l":-0.45},{"p":7,"t":89,"h":0.55,"l":-0.5},{"p":7,"t":94,"h":0.5,"l":-0.45},{"p":7,"t":98,"h":0.52,"l":-0.5},
{"p":7,"t":7,"h":0.48,"l":-0.45},{"p":7,"t":15,"h":0.5,"l":-0.48},{"p":7,"t":21,"h":0.5,"l":-0.5},{"p":7,"t":29,"h":0.52,"l":-0.5},{"p":7,"t":38,"h":0.55,"l":-0.5},{"p":7,"t":44,"h":0.5,"l":-0.48},{"p":7,"t":54,"h":0.6,"l":-0.7},{"p":7,"t":60,"h":0.55,"l":-0.55},{"p":7,"t":67,"h":0.5,"l":-0.5},{"p":7,"t":76,"h":0.52,"l":-0.5},{"p":7,"t":86,"h":0.5,"l":-0.48},{"p":7,"t":92,"h":0.52,"l":-0.5},
{"p":8,"t":10,"h":0.45,"l":-0.5},{"p":8,"t":20,"h":0.55,"l":-0.55},{"p":8,"t":27,"h":0.65,"l":-0.62},{"p":8,"t":35.5,"h":0.72,"l":-0.78},{"p":8,"t":40,"h":0.75,"l":-0.68},{"p":8,"t":47,"h":0.8,"l":-0.72},{"p":8,"t":51,"h":0.98,"l":-0.7},{"p":8,"t":55,"h":0.72,"l":-0.75},{"p":8,"t":59.5,"h":0.7,"l":-0.8},{"p":8,"t":64,"h":0.7,"l":-0.7},{"p":8,"t":70,"h":0.65,"l":-0.65},{"p":8,"t":75,"h":0.6,"l":-0.6},{"p":8,"t":82,"h":0.6,"l":-0.5},{"p":8,"t":88,"h":0.62,"l":-0.55},{"p":8,"t":93,"h":0.55,"l":-0.5},
{"p":8,"t":5,"h":0.4,"l":-0.38},{"p":8,"t":15,"h":0.5,"l":-0.5},{"p":8,"t":23,"h":0.58,"l":-0.58},{"p":8,"t":31,"h":0.65,"l":-0.65},{"p":8,"t":43,"h":0.72,"l":-0.72},{"p":8,"t":49,"h":0.75,"l":-0.7},{"p":8,"t":57,"h":0.7,"l":-0.7},{"p":8,"t":62,"h":0.68,"l":-0.66},{"p":8,"t":67,"h":0.65,"l":-0.62},{"p":8,"t":72,"h":0.62,"l":-0.6},{"p":8,"t":79,"h":0.58,"l":-0.55},{"p":8,"t":85,"h":0.58,"l":-0.56},{"p":8,"t":90,"h":0.55,"l":-0.52},{"p":8,"t":97,"h":0.52,"l":-0.5},
{"p":9,"t":3,"h":0.75,"l":-0.75},{"p":9,"t":10,"h":0.8,"l":-0.7},{"p":9,"t":17,"h":0.7,"l":-0.75},{"p":9,"t":23,"h":0.65,"l":-0.85},{"p":9,"t":30,"h":0.7,"l":-0.7},{"p":9,"t":37,"h":0.7,"l":-0.75},{"p":9,"t":43,"h":0.85,"l":-0.7},{"p":9,"t":48,"h":0.75,"l":-0.8},{"p":9,"t":55,"h":0.7,"l":-0.7},{"p":9,"t":62,"h":0.75,"l":-0.75},{"p":9,"t":68,"h":0.65,"l":-0.8},{"p":9,"t":75,"h":0.8,"l":-0.7},{"p":9,"t":82,"h":0.7,"l":-0.75},{"p":9,"t":88,"h":0.65,"l":-0.7},{"p":9,"t":95,"h":0.8,"l":-0.8},{"p":9,"t":99,"h":0.85,"l":-0.85},
{"p":9,"t":1,"h":0.62,"l":-0.65},{"p":9,"t":6,"h":0.6,"l":-0.68},{"p":9,"t":13,"h":0.65,"l":-0.7},{"p":9,"t":20,"h":0.6,"l":-0.7},{"p":9,"t":26,"h":0.62,"l":-0.68},{"p":9,"t":33,"h":0.6,"l":-0.7},{"p":9,"t":40,"h":0.65,"l":-0.65},{"p":9,"t":46,"h":0.6,"l":-0.7},{"p":9,"t":51,"h":0.62,"l":-0.72},{"p":9,"t":58,"h":0.6,"l":-0.68},{"p":9,"t":65,"h":0.65,"l":-0.7},{"p":9,"t":71,"h":0.62,"l":-0.68},{"p":9,"t":78,"h":0.6,"l":-0.72},{"p":9,"t":85,"h":0.62,"l":-0.68},{"p":9,"t":91,"h":0.6,"l":-0.7},{"p":9,"t":97,"h":0.65,"l":-0.7},
{"p":10,"t":2,"h":0.85,"l":-0.85},{"p":10,"t":7,"h":0.9,"l":-0.8},{"p":10,"t":13,"h":0.8,"l":-0.9},{"p":10,"t":19,"h":0.88,"l":-0.85},{"p":10,"t":25,"h":0.85,"l":-0.8},{"p":10,"t":31,"h":0.9,"l":-0.85},{"p":10,"t":37,"h":0.82,"l":-0.9},{"p":10,"t":43,"h":0.88,"l":-0.8},{"p":10,"t":49,"h":0.85,"l":-0.85},{"p":10,"t":55,"h":0.9,"l":-0.82},{"p":10,"t":61,"h":0.82,"l":-0.88},{"p":10,"t":67,"h":0.88,"l":-0.85},{"p":10,"t":73,"h":0.85,"l":-0.8},{"p":10,"t":79,"h":0.9,"l":-0.88},{"p":10,"t":85,"h":0.82,"l":-0.85},{"p":10,"t":91,"h":0.88,"l":-0.82},{"p":10,"t":97,"h":0.92,"l":-0.88},
{"p":10,"t":4.5,"h":0.78,"l":-0.78},{"p":10,"t":10,"h":0.8,"l":-0.75},{"p":10,"t":16,"h":0.78,"l":-0.8},{"p":10,"t":22,"h":0.8,"l":-0.78},{"p":10,"t":28,"h":0.78,"l":-0.8},{"p":10,"t":34,"h":0.8,"l":-0.76},{"p":10,"t":40,"h":0.78,"l":-0.8},{"p":10,"t":46,"h":0.8,"l":-0.78},{"p":10,"t":52,"h":0.76,"l":-0.8},{"p":10,"t":58,"h":0.8,"l":-0.78},{"p":10,"t":64,"h":0.78,"l":-0.8},{"p":10,"t":70,"h":0.8,"l":-0.76},{"p":10,"t":76,"h":0.78,"l":-0.8},{"p":10,"t":82,"h":0.8,"l":-0.78},{"p":10,"t":88,"h":0.78,"l":-0.8},{"p":10,"t":94,"h":0.8,"l":-0.78},{"p":10,"t":99.5,"h":0.78,"l":-0.8},
{"p":11,"t":15,"h":0.6,"l":-0.72},{"p":11,"t":17,"h":0.45,"l":-0.55},{"p":11,"t":30,"h":0.6,"l":-0.55},{"p":11,"t":32.5,"h":0.5,"l":-0.5},{"p":11,"t":42,"h":0.4,"l":-0.6},{"p":11,"t":44,"h":0.5,"l":-0.75},{"p":11,"t":51,"h":0.25,"l":-0.3},{"p":11,"t":60,"h":0.2,"l":-0.25},{"p":11,"t":70.8,"h":0.7,"l":-0.45},{"p":11,"t":73,"h":0.5,"l":-0.5},{"p":11,"t":80,"h":0.3,"l":-0.2},{"p":11,"t":83,"h":0.28,"l":-0.3},{"p":11,"t":95,"h":0.28,"l":-0.3},{"p":11,"t":99,"h":0.3,"l":-0.3},
{"p":12,"t":2,"h":0.25,"l":-0.2},{"p":12,"t":4,"h":0.3,"l":-0.3},{"p":12,"t":7,"h":0.25,"l":-0.35},{"p":12,"t":9.5,"h":0.4,"l":-0.38},{"p":12,"t":12,"h":0.3,"l":-0.3},{"p":12,"t":15,"h":0.35,"l":-0.25},{"p":12,"t":17,"h":0.88,"l":-0.8},{"p":12,"t":20,"h":0.5,"l":-0.35},{"p":12,"t":23,"h":0.4,"l":-0.5},{"p":12,"t":26,"h":0.2,"l":-0.3},{"p":12,"t":30,"h":0.3,"l":-0.55},{"p":12,"t":34,"h":0.4,"l":-0.25},{"p":12,"t":36.8,"h":0.8,"l":-0.92},{"p":12,"t":40,"h":0.3,"l":-0.2},{"p":12,"t":44.9,"h":0.6,"l":-0.85},{"p":12,"t":48,"h":0.25,"l":-0.2},{"p":12,"t":52,"h":0.2,"l":-0.35},{"p":12,"t":55,"h":0.3,"l":-0.25},{"p":12,"t":63,"h":0.2,"l":-0.2},{"p":12,"t":69,"h":0.25,"l":-0.5},{"p":12,"t":75,"h":0.25,"l":-0.2},{"p":12,"t":80,"h":0.2,"l":-0.25},{"p":12,"t":85,"h":0.3,"l":-0.3},{"p":12,"t":89.5,"h":0.45,"l":-0.4},{"p":12,"t":93,"h":0.92,"l":-0.85},{"p":12,"t":96,"h":0.55,"l":-0.5},{"p":12,"t":97.5,"h":0.85,"l":-0.91},
{"p":13,"t":1.3,"h":0.7,"l":-0.75},{"p":13,"t":2.4,"h":0.75,"l":-0.78},{"p":13,"t":3.4,"h":0.65,"l":-0.7},{"p":13,"t":4.7,"h":0.7,"l":-0.75},{"p":13,"t":5.6,"h":0.55,"l":-0.6},{"p":13,"t":11.8,"h":0.8,"l":-0.82},{"p":13,"t":12.8,"h":0.4,"l":-0.4},{"p":13,"t":17.4,"h":0.75,"l":-0.72},{"p":13,"t":18,"h":0.5,"l":-0.5},{"p":13,"t":27.9,"h":0.92,"l":-0.92},{"p":13,"t":37.9,"h":0.2,"l":-0.25},{"p":13,"t":38.9,"h":0.3,"l":-0.3},{"p":13,"t":40.3,"h":0.5,"l":-0.5},{"p":13,"t":47,"h":0.92,"l":-0.92},{"p":13,"t":47.6,"h":0.5,"l":-0.45},{"p":13,"t":49.7,"h":0.75,"l":-0.8},{"p":13,"t":50.3,"h":0.5,"l":-0.5},{"p":13,"t":52.3,"h":0.25,"l":-0.25},{"p":13,"t":59.1,"h":0.88,"l":-0.92},{"p":13,"t":59.7,"h":0.5,"l":-0.5},{"p":13,"t":61.3,"h":0.3,"l":-0.3},{"p":13,"t":72.2,"h":0.78,"l":-0.75},{"p":13,"t":72.8,"h":0.3,"l":-0.3},{"p":13,"t":82.6,"h":0.05,"l":-0.05},{"p":13,"t":86.2,"h":0.3,"l":-0.3},{"p":13,"t":87.7,"h":0.45,"l":-0.6},{"p":13,"t":89.3,"h":0.55,"l":-0.72},{"p":13,"t":96,"h":0.6,"l":-0.6},{"p":13,"t":96.9,"h":0.7,"l":-0.7},{"p":13,"t":98,"h":0.6,"l":-0.62},{"p":13,"t":99.3,"h":0.55,"l":-0.6},
{"p":14,"t":2.5,"h":0.85,"l":-0.6},{"p":14,"t":5,"h":0.75,"l":-0.95},{"p":14,"t":11,"h":0.45,"l":-0.55},{"p":14,"t":17.5,"h":0.8,"l":-0.95},{"p":14,"t":30,"h":0.6,"l":-0.65},{"p":14,"t":34,"h":0.35,"l":-0.7},{"p":14,"t":40,"h":0.4,"l":-0.35},{"p":14,"t":53.7,"h":0.95,"l":-0.9},{"p":14,"t":55,"h":1,"l":-0.97},{"p":14,"t":57.5,"h":0.95,"l":-0.9},{"p":14,"t":66,"h":0.4,"l":-0.75},{"p":14,"t":70,"h":0.45,"l":-0.75},{"p":14,"t":76,"h":0.55,"l":-0.6},{"p":14,"t":84.5,"h":0.6,"l":-0.7},{"p":14,"t":88,"h":0.55,"l":-0.5},{"p":14,"t":96.5,"h":0.95,"l":-0.97},{"p":14,"t":99,"h":0.5,"l":-0.6},
{"p":15,"t":5,"h":0.55,"l":-0.4},{"p":15,"t":9,"h":0.6,"l":-0.5},{"p":15,"t":13,"h":0.65,"l":-0.5},{"p":15,"t":18,"h":0.6,"l":-0.6},{"p":15,"t":27,"h":0.9,"l":-0.75},{"p":15,"t":31,"h":0.7,"l":-0.6},{"p":15,"t":35,"h":0.75,"l":-0.7},{"p":15,"t":38,"h":0.65,"l":-0.55},{"p":15,"t":44,"h":0.6,"l":-0.8},{"p":15,"t":47,"h":0.6,"l":-0.6},{"p":15,"t":56,"h":0.45,"l":-0.55},{"p":15,"t":63,"h":0.65,"l":-0.5},{"p":15,"t":72,"h":0.55,"l":-0.7},{"p":15,"t":78,"h":0.6,"l":-0.5},{"p":15,"t":86,"h":0.55,"l":-0.5},{"p":15,"t":92,"h":0.5,"l":-0.45},
{"p":15,"t":2,"h":0.45,"l":-0.4},{"p":15,"t":7,"h":0.58,"l":-0.5},{"p":15,"t":11,"h":0.55,"l":-0.55},{"p":15,"t":16,"h":0.62,"l":-0.55},{"p":15,"t":21,"h":0.62,"l":-0.55},{"p":15,"t":24,"h":0.72,"l":-0.62},{"p":15,"t":29,"h":0.7,"l":-0.68},{"p":15,"t":33,"h":0.65,"l":-0.6},{"p":15,"t":41,"h":0.65,"l":-0.6},{"p":15,"t":50,"h":0.55,"l":-0.55},{"p":15,"t":53,"h":0.55,"l":-0.5},{"p":15,"t":60,"h":0.5,"l":-0.55},{"p":15,"t":66,"h":0.65,"l":-0.6},{"p":15,"t":69,"h":0.55,"l":-0.55},{"p":15,"t":75,"h":0.55,"l":-0.5},{"p":15,"t":81,"h":0.55,"l":-0.5},{"p":15,"t":89,"h":0.52,"l":-0.5},{"p":15,"t":96,"h":0.48,"l":-0.45},
{"p":16,"t":12,"h":0.55,"l":-0.8},{"p":16,"t":17,"h":0.6,"l":-0.95},{"p":16,"t":35,"h":0.85,"l":-0.8},{"p":16,"t":38,"h":1,"l":-0.72},{"p":16,"t":58,"h":0.65,"l":-0.78},{"p":16,"t":70,"h":0.68,"l":-0.78},{"p":16,"t":82,"h":0.9,"l":-0.7},{"p":16,"t":86.5,"h":0.82,"l":-0.95},{"p":16,"t":91,"h":0.75,"l":-0.8},
{"p":17,"t":3,"h":0.1,"l":-0.15},{"p":17,"t":5.4,"h":0.95,"l":-0.9},{"p":17,"t":7,"h":0.3,"l":-0.35},{"p":17,"t":13.4,"h":0.15,"l":-0.1},{"p":17,"t":20.4,"h":0.55,"l":-0.5},{"p":17,"t":20.9,"h":0.35,"l":-0.3},{"p":17,"t":28,"h":0.15,"l":-0.12},{"p":17,"t":30.6,"h":0.65,"l":-0.75},{"p":17,"t":31,"h":0.3,"l":-0.35},{"p":17,"t":36,"h":0.1,"l":-0.1},{"p":17,"t":43.9,"h":0.4,"l":-0.2},{"p":17,"t":46.6,"h":1,"l":-0.9},{"p":17,"t":47.2,"h":0.4,"l":-0.35},{"p":17,"t":51,"h":0.15,"l":-0.1},{"p":17,"t":54.4,"h":0.1,"l":-0.1},{"p":17,"t":60,"h":0.15,"l":-0.2},{"p":17,"t":63.8,"h":0.12,"l":-0.12},{"p":17,"t":71.8,"h":0.4,"l":-0.4},{"p":17,"t":73.2,"h":0.35,"l":-0.3},{"p":17,"t":79.5,"h":0.55,"l":-0.65},{"p":17,"t":80,"h":0.3,"l":-0.3},{"p":17,"t":88,"h":0.15,"l":-0.2},{"p":17,"t":95,"h":0.1,"l":-0.12},{"p":17,"t":97.3,"h":0.4,"l":-0.4},
{"p":18,"t":3,"h":0.85,"l":-0.85},{"p":18,"t":5,"h":1,"l":-0.75},{"p":18,"t":7.5,"h":0.8,"l":-0.9},{"p":18,"t":10,"h":0.7,"l":-0.7},{"p":18,"t":14,"h":0.6,"l":-0.6},{"p":18,"t":19,"h":0.55,"l":-0.5},{"p":18,"t":24,"h":0.45,"l":-0.5},{"p":18,"t":40,"h":0.5,"l":-0.45},{"p":18,"t":43,"h":0.65,"l":-0.6},{"p":18,"t":46,"h":0.55,"l":-0.65},{"p":18,"t":60,"h":0.4,"l":-0.45},{"p":18,"t":78,"h":0.5,"l":-0.5},{"p":18,"t":82,"h":0.55,"l":-0.55},{"p":18,"t":86,"h":0.68,"l":-0.6},{"p":18,"t":88,"h":0.6,"l":-0.65},
{"p":18,"t":1,"h":0.65,"l":-0.7},{"p":18,"t":9,"h":0.75,"l":-0.75},{"p":18,"t":12,"h":0.68,"l":-0.65},{"p":18,"t":16,"h":0.58,"l":-0.6},{"p":18,"t":21,"h":0.5,"l":-0.55},{"p":18,"t":28,"h":0.45,"l":-0.45},{"p":18,"t":32,"h":0.42,"l":-0.42},{"p":18,"t":36,"h":0.42,"l":-0.45},{"p":18,"t":50,"h":0.5,"l":-0.55},{"p":18,"t":54,"h":0.48,"l":-0.5},{"p":18,"t":58,"h":0.45,"l":-0.48},{"p":18,"t":65,"h":0.4,"l":-0.45},{"p":18,"t":70,"h":0.45,"l":-0.45},{"p":18,"t":74,"h":0.48,"l":-0.52},{"p":18,"t":84,"h":0.6,"l":-0.58},{"p":18,"t":92,"h":0.45,"l":-0.45},{"p":18,"t":96,"h":0.35,"l":-0.35},
{"p":19,"t":2,"h":0.45,"l":-0.55},{"p":19,"t":5.5,"h":0.7,"l":-0.6},{"p":19,"t":8,"h":0.65,"l":-0.65},{"p":19,"t":12,"h":0.7,"l":-0.6},{"p":19,"t":15,"h":0.55,"l":-0.7},{"p":19,"t":19,"h":0.6,"l":-0.5},{"p":19,"t":24,"h":0.5,"l":-0.55},{"p":19,"t":30.5,"h":0.45,"l":-0.4},{"p":19,"t":36,"h":0.45,"l":-0.55},{"p":19,"t":45.7,"h":0.6,"l":-0.5},{"p":19,"t":60,"h":0.15,"l":-0.15},{"p":19,"t":68.2,"h":0.97,"l":-0.93},{"p":19,"t":70,"h":0.7,"l":-0.8},{"p":19,"t":75,"h":0.55,"l":-0.6},{"p":19,"t":79,"h":0.6,"l":-0.7},{"p":19,"t":88.6,"h":0.65,"l":-0.6},{"p":19,"t":96.6,"h":0.4,"l":-0.6},
{"p":20,"t":10,"h":0.35,"l":-0.45},{"p":20,"t":15,"h":0.5,"l":-0.3},{"p":20,"t":20.8,"h":0.97,"l":-0.97},{"p":20,"t":22,"h":0.45,"l":-0.5},{"p":20,"t":70,"h":0.45,"l":-0.35},{"p":20,"t":75,"h":0.5,"l":-0.55},{"p":20,"t":78,"h":0.65,"l":-0.6},{"p":20,"t":84,"h":0.55,"l":-0.7},{"p":20,"t":85.5,"h":1,"l":-0.88},{"p":20,"t":87,"h":0.45,"l":-0.6},{"p":20,"t":98,"h":0.3,"l":-0.2}
]},
"columns":4,
"spacing":{"row":12,"column":10},
"resolve":{"scale":{"color":"independent"},"legend":{"color":"independent"}},
"concat":[
{"width":255,"height":326,"title":{"text":["1. Wibrating mill"],"dx":43},"resolve":{"scale":{"x":"independent","y":"independent"}},"layer":[{"layer":[{"data":{"values":[{}]},"mark":{"type":"rect","fill":"#fffaeb"},"encoding":{"x":{"datum":0,"type":"quantitative","scale":{"domain":[0,100],"range":[3,251],"nice":false,"zero":false},"axis":null},"x2":{"datum":100},"y":{"datum":-1,"type":"quantitative","scale":{"domain":[-1,1],"range":[86,4],"nice":false,"zero":false},"axis":null},"y2":{"datum":1}}},{"data":{"values":[{}]},"mark":{"type":"rule","strokeDash":[4,3],"color":"#8c8c8c","strokeWidth":1},"encoding":{"x":{"datum":50,"type":"quantitative","axis":null},"y":{"datum":-1,"type":"quantitative","axis":null},"y2":{"datum":1}}},{"data":{"values":[{}]},"mark":{"type":"rule","strokeDash":[4,3],"color":"#8c8c8c","strokeWidth":1},"encoding":{"x":{"datum":0,"type":"quantitative","axis":null},"x2":{"datum":100},"y":{"datum":0.55,"type":"quantitative","axis":null}}},{"data":{"values":[{}]},"mark":{"type":"rule","strokeDash":[4,3],"color":"#8c8c8c","strokeWidth":1},"encoding":{"x":{"datum":0,"type":"quantitative","axis":null},"x2":{"datum":100},"y":{"datum":-0.55,"type":"quantitative","axis":null}}},{"data":{"name":"w"},"transform":[{"filter":"datum.p==1"}],"mark":"area","encoding":{"x":{"field":"t","type":"quantitative","axis":null},"y":{"field":"h","type":"quantitative","axis":null},"y2":{"field":"l"}}},{"data":{"name":"s"},"transform":[{"filter":"datum.p==1"}],"mark":"rule","encoding":{"x":{"field":"t","type":"quantitative","axis":null},"y":{"field":"h","type":"quantitative","axis":null},"y2":{"field":"l"}}}]},{"resolve":{"axis":{"x":"independent"}},"layer":[{"data":{"name":"b"},"transform":[{"filter":"datum.p==1"},{"fold":["f","m"],"as":["s","v"]}],"mark":"bar","encoding":{"x":{"field":"c","type":"ordinal","title":null,"scale":{"domain":[1,2,3,4,5,6,7],"range":[41,250],"paddingInner":0,"paddingOuter":0},"axis":{"orient":"bottom"}},"xOffset":{"field":"s","scale":{"paddingInner":0,"paddingOuter":0}},"y":{"field":"v","type":"quantitative","title":"%","scale":{"domain":[0,65],"range":[282,103.25],"nice":false},"axis":{"orient":"left","gridColor":{"condition":{"test":"datum.value%20","value":"#d9d9d9"},"value":"#a6a6a6"},"tickOpacity":{"condition":{"test":"datum.value%20","value":0},"value":1}}},"color":{"field":"s","title":null,"scale":{"domain":["f","m"],"range":["#4f81bd","#c0504d"]},"legend":{"labelExpr":"datum.label=='f'?'f*':'m'"}}}},{"data":{"name":"b"},"transform":[{"filter":"datum.p==1"}],"mark":{"type":"tick","opacity":0},"encoding":{"x":{"field":"c","type":"ordinal","title":null,"axis":{"orient":"top","offset":-282,"labels":false,"domain":false,"tickSize":6}}}}]}]},
{"width":255,"height":326,"title":{"text":["2. Styrofoam creak"],"dx":36},"resolve":{"scale":{"x":"independent","y":"independent"}},"layer":[{"layer":[{"data":{"values":[{}]},"mark":{"type":"rect","fill":"#fffaeb"},"encoding":{"x":{"datum":0,"type":"quantitative","scale":{"domain":[0,100],"range":[3,251],"nice":false,"zero":false},"axis":null},"x2":{"datum":100},"y":{"datum":-1,"type":"quantitative","scale":{"domain":[-1,1],"range":[86,4],"nice":false,"zero":false},"axis":null},"y2":{"datum":1}}},{"data":{"values":[{}]},"mark":{"type":"rule","strokeDash":[4,3],"color":"#8c8c8c","strokeWidth":1},"encoding":{"x":{"datum":50,"type":"quantitative","axis":null},"y":{"datum":-1,"type":"quantitative","axis":null},"y2":{"datum":1}}},{"data":{"values":[{}]},"mark":{"type":"rule","strokeDash":[4,3],"color":"#8c8c8c","strokeWidth":1},"encoding":{"x":{"datum":0,"type":"quantitative","axis":null},"x2":{"datum":100},"y":{"datum":0.55,"type":"quantitative","axis":null}}},{"data":{"values":[{}]},"mark":{"type":"rule","strokeDash":[4,3],"color":"#8c8c8c","strokeWidth":1},"encoding":{"x":{"datum":0,"type":"quantitative","axis":null},"x2":{"datum":100},"y":{"datum":-0.55,"type":"quantitative","axis":null}}},{"data":{"name":"w"},"transform":[{"filter":"datum.p==2"}],"mark":"area","encoding":{"x":{"field":"t","type":"quantitative","axis":null},"y":{"field":"h","type":"quantitative","axis":null},"y2":{"field":"l"}}},{"data":{"name":"s"},"transform":[{"filter":"datum.p==2"}],"mark":"rule","encoding":{"x":{"field":"t","type":"quantitative","axis":null},"y":{"field":"h","type":"quantitative","axis":null},"y2":{"field":"l"}}}]},{"resolve":{"axis":{"x":"independent"}},"layer":[{"data":{"name":"b"},"transform":[{"filter":"datum.p==2"},{"fold":["f","m"],"as":["s","v"]}],"mark":"bar","encoding":{"x":{"field":"c","type":"ordinal","title":null,"scale":{"domain":[1,2,3,4,5,6,7],"range":[41,250],"paddingInner":0,"paddingOuter":0},"axis":{"orient":"bottom"}},"xOffset":{"field":"s","scale":{"paddingInner":0,"paddingOuter":0}},"y":{"field":"v","type":"quantitative","title":"%","scale":{"domain":[0,65],"range":[282,103.25],"nice":false},"axis":{"orient":"left","gridColor":{"condition":{"test":"datum.value%20","value":"#d9d9d9"},"value":"#a6a6a6"},"tickOpacity":{"condition":{"test":"datum.value%20","value":0},"value":1}}},"color":{"field":"s","title":null,"scale":{"domain":["f","m"],"range":["#4f81bd","#c0504d"]},"legend":{"labelExpr":"datum.label=='f'?'f*':'m'"}}}},{"data":{"name":"b"},"transform":[{"filter":"datum.p==2"}],"mark":{"type":"tick","opacity":0},"encoding":{"x":{"field":"c","type":"ordinal","title":null,"axis":{"orient":"top","offset":-282,"labels":false,"domain":false,"tickSize":6}}}}]}]},
{"width":255,"height":326,"title":{"text":["3. Tram squeak"],"dx":44},"resolve":{"scale":{"x":"independent","y":"independent"}},"layer":[{"layer":[{"data":{"values":[{}]},"mark":{"type":"rect","fill":"#fffaeb"},"encoding":{"x":{"datum":0,"type":"quantitative","scale":{"domain":[0,100],"range":[3,251],"nice":false,"zero":false},"axis":null},"x2":{"datum":100},"y":{"datum":-1,"type":"quantitative","scale":{"domain":[-1,1],"range":[86,4],"nice":false,"zero":false},"axis":null},"y2":{"datum":1}}},{"data":{"values":[{}]},"mark":{"type":"rule","strokeDash":[4,3],"color":"#8c8c8c","strokeWidth":1},"encoding":{"x":{"datum":50,"type":"quantitative","axis":null},"y":{"datum":-1,"type":"quantitative","axis":null},"y2":{"datum":1}}},{"data":{"values":[{}]},"mark":{"type":"rule","strokeDash":[4,3],"color":"#8c8c8c","strokeWidth":1},"encoding":{"x":{"datum":0,"type":"quantitative","axis":null},"x2":{"datum":100},"y":{"datum":0.55,"type":"quantitative","axis":null}}},{"data":{"values":[{}]},"mark":{"type":"rule","strokeDash":[4,3],"color":"#8c8c8c","strokeWidth":1},"encoding":{"x":{"datum":0,"type":"quantitative","axis":null},"x2":{"datum":100},"y":{"datum":-0.55,"type":"quantitative","axis":null}}},{"data":{"name":"w"},"transform":[{"filter":"datum.p==3"}],"mark":"area","encoding":{"x":{"field":"t","type":"quantitative","axis":null},"y":{"field":"h","type":"quantitative","axis":null},"y2":{"field":"l"}}},{"data":{"name":"s"},"transform":[{"filter":"datum.p==3"}],"mark":"rule","encoding":{"x":{"field":"t","type":"quantitative","axis":null},"y":{"field":"h","type":"quantitative","axis":null},"y2":{"field":"l"}}}]},{"resolve":{"axis":{"x":"independent"}},"layer":[{"data":{"name":"b"},"transform":[{"filter":"datum.p==3"},{"fold":["f","m"],"as":["s","v"]}],"mark":"bar","encoding":{"x":{"field":"c","type":"ordinal","title":null,"scale":{"domain":[1,2,3,4,5,6,7],"range":[41,250],"paddingInner":0,"paddingOuter":0},"axis":{"orient":"bottom"}},"xOffset":{"field":"s","scale":{"paddingInner":0,"paddingOuter":0}},"y":{"field":"v","type":"quantitative","title":"%","scale":{"domain":[0,65],"range":[282,103.25],"nice":false},"axis":{"orient":"left","gridColor":{"condition":{"test":"datum.value%20","value":"#d9d9d9"},"value":"#a6a6a6"},"tickOpacity":{"condition":{"test":"datum.value%20","value":0},"value":1}}},"color":{"field":"s","title":null,"scale":{"domain":["f","m"],"range":["#4f81bd","#c0504d"]}}}},{"data":{"name":"b"},"transform":[{"filter":"datum.p==3"}],"mark":{"type":"tick","opacity":0},"encoding":{"x":{"field":"c","type":"ordinal","title":null,"axis":{"orient":"top","offset":-282,"labels":false,"domain":false,"tickSize":6}}}}]}]},
{"width":255,"height":326,"title":{"text":["4. Birdsong:","\u200b\u00a0\u00a0\u00a0\u00a0\u00a0\u00a0chaffinch"],"dx":47,"offset":-144},"resolve":{"scale":{"x":"independent","y":"independent"}},"layer":[{"layer":[{"data":{"values":[{}]},"mark":{"type":"rect","fill":"#fffaeb"},"encoding":{"x":{"datum":0,"type":"quantitative","scale":{"domain":[0,100],"range":[3,251],"nice":false,"zero":false},"axis":null},"x2":{"datum":100},"y":{"datum":-1,"type":"quantitative","scale":{"domain":[-1,1],"range":[86,4],"nice":false,"zero":false},"axis":null},"y2":{"datum":1}}},{"data":{"values":[{}]},"mark":{"type":"rule","strokeDash":[4,3],"color":"#8c8c8c","strokeWidth":1},"encoding":{"x":{"datum":50,"type":"quantitative","axis":null},"y":{"datum":-1,"type":"quantitative","axis":null},"y2":{"datum":1}}},{"data":{"values":[{}]},"mark":{"type":"rule","strokeDash":[4,3],"color":"#8c8c8c","strokeWidth":1},"encoding":{"x":{"datum":0,"type":"quantitative","axis":null},"x2":{"datum":100},"y":{"datum":0.55,"type":"quantitative","axis":null}}},{"data":{"values":[{}]},"mark":{"type":"rule","strokeDash":[4,3],"color":"#8c8c8c","strokeWidth":1},"encoding":{"x":{"datum":0,"type":"quantitative","axis":null},"x2":{"datum":100},"y":{"datum":-0.55,"type":"quantitative","axis":null}}},{"data":{"name":"w"},"transform":[{"filter":"datum.p==4"}],"mark":"area","encoding":{"x":{"field":"t","type":"quantitative","axis":null},"y":{"field":"h","type":"quantitative","axis":null},"y2":{"field":"l"}}},{"data":{"name":"s"},"transform":[{"filter":"datum.p==4"}],"mark":"rule","encoding":{"x":{"field":"t","type":"quantitative","axis":null},"y":{"field":"h","type":"quantitative","axis":null},"y2":{"field":"l"}}}]},{"resolve":{"axis":{"x":"independent"}},"layer":[{"data":{"name":"b"},"transform":[{"filter":"datum.p==4"},{"fold":["f","m"],"as":["s","v"]}],"mark":"bar","encoding":{"x":{"field":"c","type":"ordinal","title":null,"scale":{"domain":[1,2,3,4,5,6,7],"range":[41,250],"paddingInner":0,"paddingOuter":0},"axis":{"orient":"bottom"}},"xOffset":{"field":"s","scale":{"paddingInner":0,"paddingOuter":0}},"y":{"field":"v","type":"quantitative","title":"%","scale":{"domain":[0,65],"range":[282,103.25],"nice":false},"axis":{"orient":"left","gridColor":{"condition":{"test":"datum.value%20","value":"#d9d9d9"},"value":"#a6a6a6"},"tickOpacity":{"condition":{"test":"datum.value%20","value":0},"value":1}}},"color":{"field":"s","title":null,"scale":{"domain":["f","m"],"range":["#4f81bd","#c0504d"]}}}},{"data":{"name":"b"},"transform":[{"filter":"datum.p==4"}],"mark":{"type":"tick","opacity":0},"encoding":{"x":{"field":"c","type":"ordinal","title":null,"axis":{"orient":"top","offset":-282,"labels":false,"domain":false,"tickSize":6}}}}]}]},
{"width":255,"height":326,"title":{"text":["5. Scraping fork","(quick)"],"dx":46,"offset":-144},"resolve":{"scale":{"x":"independent","y":"independent"}},"layer":[{"layer":[{"data":{"values":[{}]},"mark":{"type":"rect","fill":"#fffaeb"},"encoding":{"x":{"datum":0,"type":"quantitative","scale":{"domain":[0,100],"range":[3,251],"nice":false,"zero":false},"axis":null},"x2":{"datum":100},"y":{"datum":-1,"type":"quantitative","scale":{"domain":[-1,1],"range":[86,4],"nice":false,"zero":false},"axis":null},"y2":{"datum":1}}},{"data":{"values":[{}]},"mark":{"type":"rule","strokeDash":[4,3],"color":"#8c8c8c","strokeWidth":1},"encoding":{"x":{"datum":50,"type":"quantitative","axis":null},"y":{"datum":-1,"type":"quantitative","axis":null},"y2":{"datum":1}}},{"data":{"values":[{}]},"mark":{"type":"rule","strokeDash":[4,3],"color":"#8c8c8c","strokeWidth":1},"encoding":{"x":{"datum":0,"type":"quantitative","axis":null},"x2":{"datum":100},"y":{"datum":0.55,"type":"quantitative","axis":null}}},{"data":{"values":[{}]},"mark":{"type":"rule","strokeDash":[4,3],"color":"#8c8c8c","strokeWidth":1},"encoding":{"x":{"datum":0,"type":"quantitative","axis":null},"x2":{"datum":100},"y":{"datum":-0.55,"type":"quantitative","axis":null}}},{"data":{"name":"w"},"transform":[{"filter":"datum.p==5"}],"mark":"area","encoding":{"x":{"field":"t","type":"quantitative","axis":null},"y":{"field":"h","type":"quantitative","axis":null},"y2":{"field":"l"}}},{"data":{"name":"s"},"transform":[{"filter":"datum.p==5"}],"mark":"rule","encoding":{"x":{"field":"t","type":"quantitative","axis":null},"y":{"field":"h","type":"quantitative","axis":null},"y2":{"field":"l"}}}]},{"resolve":{"axis":{"x":"independent"}},"layer":[{"data":{"name":"b"},"transform":[{"filter":"datum.p==5"},{"fold":["f","m"],"as":["s","v"]}],"mark":"bar","encoding":{"x":{"field":"c","type":"ordinal","title":null,"scale":{"domain":[1,2,3,4,5,6,7],"range":[41,250],"paddingInner":0,"paddingOuter":0},"axis":{"orient":"bottom"}},"xOffset":{"field":"s","scale":{"paddingInner":0,"paddingOuter":0}},"y":{"field":"v","type":"quantitative","title":"%","scale":{"domain":[0,65],"range":[282,103.25],"nice":false},"axis":{"orient":"left","gridColor":{"condition":{"test":"datum.value%20","value":"#d9d9d9"},"value":"#a6a6a6"},"tickOpacity":{"condition":{"test":"datum.value%20","value":0},"value":1}}},"color":{"field":"s","title":null,"scale":{"domain":["f","m"],"range":["#4f81bd","#c0504d"]},"legend":{"labelExpr":"datum.label=='f'?'f*':'m'"}}}},{"data":{"name":"b"},"transform":[{"filter":"datum.p==5"}],"mark":{"type":"tick","opacity":0},"encoding":{"x":{"field":"c","type":"ordinal","title":null,"axis":{"orient":"top","offset":-282,"labels":false,"domain":false,"tickSize":6}}}}]}]},
{"width":255,"height":326,"title":{"text":["\u200b\u00a06. Bat hiss:","frosted bat"],"dx":46,"offset":-144},"resolve":{"scale":{"x":"independent","y":"independent"}},"layer":[{"layer":[{"data":{"values":[{}]},"mark":{"type":"rect","fill":"#fffaeb"},"encoding":{"x":{"datum":0,"type":"quantitative","scale":{"domain":[0,100],"range":[3,251],"nice":false,"zero":false},"axis":null},"x2":{"datum":100},"y":{"datum":-1,"type":"quantitative","scale":{"domain":[-1,1],"range":[86,4],"nice":false,"zero":false},"axis":null},"y2":{"datum":1}}},{"data":{"values":[{}]},"mark":{"type":"rule","strokeDash":[4,3],"color":"#8c8c8c","strokeWidth":1},"encoding":{"x":{"datum":50,"type":"quantitative","axis":null},"y":{"datum":-1,"type":"quantitative","axis":null},"y2":{"datum":1}}},{"data":{"values":[{}]},"mark":{"type":"rule","strokeDash":[4,3],"color":"#8c8c8c","strokeWidth":1},"encoding":{"x":{"datum":0,"type":"quantitative","axis":null},"x2":{"datum":100},"y":{"datum":0.55,"type":"quantitative","axis":null}}},{"data":{"values":[{}]},"mark":{"type":"rule","strokeDash":[4,3],"color":"#8c8c8c","strokeWidth":1},"encoding":{"x":{"datum":0,"type":"quantitative","axis":null},"x2":{"datum":100},"y":{"datum":-0.55,"type":"quantitative","axis":null}}},{"data":{"name":"w"},"transform":[{"filter":"datum.p==6"}],"mark":"area","encoding":{"x":{"field":"t","type":"quantitative","axis":null},"y":{"field":"h","type":"quantitative","axis":null},"y2":{"field":"l"}}},{"data":{"name":"s"},"transform":[{"filter":"datum.p==6"}],"mark":"rule","encoding":{"x":{"field":"t","type":"quantitative","axis":null},"y":{"field":"h","type":"quantitative","axis":null},"y2":{"field":"l"}}}]},{"resolve":{"axis":{"x":"independent"}},"layer":[{"data":{"name":"b"},"transform":[{"filter":"datum.p==6"},{"fold":["f","m"],"as":["s","v"]}],"mark":"bar","encoding":{"x":{"field":"c","type":"ordinal","title":null,"scale":{"domain":[1,2,3,4,5,6,7],"range":[41,250],"paddingInner":0,"paddingOuter":0},"axis":{"orient":"bottom"}},"xOffset":{"field":"s","scale":{"paddingInner":0,"paddingOuter":0}},"y":{"field":"v","type":"quantitative","title":"%","scale":{"domain":[0,65],"range":[282,103.25],"nice":false},"axis":{"orient":"left","gridColor":{"condition":{"test":"datum.value%20","value":"#d9d9d9"},"value":"#a6a6a6"},"tickOpacity":{"condition":{"test":"datum.value%20","value":0},"value":1}}},"color":{"field":"s","title":null,"scale":{"domain":["f","m"],"range":["#4f81bd","#c0504d"]}}}},{"data":{"name":"b"},"transform":[{"filter":"datum.p==6"}],"mark":{"type":"tick","opacity":0},"encoding":{"x":{"field":"c","type":"ordinal","title":null,"axis":{"orient":"top","offset":-282,"labels":false,"domain":false,"tickSize":6}}}}]}]},
{"width":255,"height":326,"title":{"text":["7. Knives","sharpening"],"dx":44,"offset":-144},"resolve":{"scale":{"x":"independent","y":"independent"}},"layer":[{"layer":[{"data":{"values":[{}]},"mark":{"type":"rect","fill":"#fffaeb"},"encoding":{"x":{"datum":0,"type":"quantitative","scale":{"domain":[0,100],"range":[3,251],"nice":false,"zero":false},"axis":null},"x2":{"datum":100},"y":{"datum":-1,"type":"quantitative","scale":{"domain":[-1,1],"range":[86,4],"nice":false,"zero":false},"axis":null},"y2":{"datum":1}}},{"data":{"values":[{}]},"mark":{"type":"rule","strokeDash":[4,3],"color":"#8c8c8c","strokeWidth":1},"encoding":{"x":{"datum":50,"type":"quantitative","axis":null},"y":{"datum":-1,"type":"quantitative","axis":null},"y2":{"datum":1}}},{"data":{"values":[{}]},"mark":{"type":"rule","strokeDash":[4,3],"color":"#8c8c8c","strokeWidth":1},"encoding":{"x":{"datum":0,"type":"quantitative","axis":null},"x2":{"datum":100},"y":{"datum":0.55,"type":"quantitative","axis":null}}},{"data":{"values":[{}]},"mark":{"type":"rule","strokeDash":[4,3],"color":"#8c8c8c","strokeWidth":1},"encoding":{"x":{"datum":0,"type":"quantitative","axis":null},"x2":{"datum":100},"y":{"datum":-0.55,"type":"quantitative","axis":null}}},{"data":{"name":"w"},"transform":[{"filter":"datum.p==7"}],"mark":"area","encoding":{"x":{"field":"t","type":"quantitative","axis":null},"y":{"field":"h","type":"quantitative","axis":null},"y2":{"field":"l"}}},{"data":{"name":"s"},"transform":[{"filter":"datum.p==7"}],"mark":"rule","encoding":{"x":{"field":"t","type":"quantitative","axis":null},"y":{"field":"h","type":"quantitative","axis":null},"y2":{"field":"l"}}}]},{"resolve":{"axis":{"x":"independent"}},"layer":[{"data":{"name":"b"},"transform":[{"filter":"datum.p==7"},{"fold":["f","m"],"as":["s","v"]}],"mark":"bar","encoding":{"x":{"field":"c","type":"ordinal","title":null,"scale":{"domain":[1,2,3,4,5,6,7],"range":[41,250],"paddingInner":0,"paddingOuter":0},"axis":{"orient":"bottom"}},"xOffset":{"field":"s","scale":{"paddingInner":0,"paddingOuter":0}},"y":{"field":"v","type":"quantitative","title":"%","scale":{"domain":[0,65],"range":[282,103.25],"nice":false},"axis":{"orient":"left","gridColor":{"condition":{"test":"datum.value%20","value":"#d9d9d9"},"value":"#a6a6a6"},"tickOpacity":{"condition":{"test":"datum.value%20","value":0},"value":1}}},"color":{"field":"s","title":null,"scale":{"domain":["f","m"],"range":["#4f81bd","#c0504d"]},"legend":{"labelExpr":"datum.label=='f'?'f*':'m'"}}}},{"data":{"name":"b"},"transform":[{"filter":"datum.p==7"}],"mark":{"type":"tick","opacity":0},"encoding":{"x":{"field":"c","type":"ordinal","title":null,"axis":{"orient":"top","offset":-282,"labels":false,"domain":false,"tickSize":6}}}}]}]},
{"width":255,"height":326,"title":{"text":["8. Jet plane"],"dx":47},"resolve":{"scale":{"x":"independent","y":"independent"}},"layer":[{"layer":[{"data":{"values":[{}]},"mark":{"type":"rect","fill":"#fffaeb"},"encoding":{"x":{"datum":0,"type":"quantitative","scale":{"domain":[0,100],"range":[3,251],"nice":false,"zero":false},"axis":null},"x2":{"datum":100},"y":{"datum":-1,"type":"quantitative","scale":{"domain":[-1,1],"range":[86,4],"nice":false,"zero":false},"axis":null},"y2":{"datum":1}}},{"data":{"values":[{}]},"mark":{"type":"rule","strokeDash":[4,3],"color":"#8c8c8c","strokeWidth":1},"encoding":{"x":{"datum":50,"type":"quantitative","axis":null},"y":{"datum":-1,"type":"quantitative","axis":null},"y2":{"datum":1}}},{"data":{"values":[{}]},"mark":{"type":"rule","strokeDash":[4,3],"color":"#8c8c8c","strokeWidth":1},"encoding":{"x":{"datum":0,"type":"quantitative","axis":null},"x2":{"datum":100},"y":{"datum":0.55,"type":"quantitative","axis":null}}},{"data":{"values":[{}]},"mark":{"type":"rule","strokeDash":[4,3],"color":"#8c8c8c","strokeWidth":1},"encoding":{"x":{"datum":0,"type":"quantitative","axis":null},"x2":{"datum":100},"y":{"datum":-0.55,"type":"quantitative","axis":null}}},{"data":{"name":"w"},"transform":[{"filter":"datum.p==8"}],"mark":"area","encoding":{"x":{"field":"t","type":"quantitative","axis":null},"y":{"field":"h","type":"quantitative","axis":null},"y2":{"field":"l"}}},{"data":{"name":"s"},"transform":[{"filter":"datum.p==8"}],"mark":"rule","encoding":{"x":{"field":"t","type":"quantitative","axis":null},"y":{"field":"h","type":"quantitative","axis":null},"y2":{"field":"l"}}}]},{"resolve":{"axis":{"x":"independent"}},"layer":[{"data":{"name":"b"},"transform":[{"filter":"datum.p==8"},{"fold":["f","m"],"as":["s","v"]}],"mark":"bar","encoding":{"x":{"field":"c","type":"ordinal","title":null,"scale":{"domain":[1,2,3,4,5,6,7],"range":[41,250],"paddingInner":0,"paddingOuter":0},"axis":{"orient":"bottom"}},"xOffset":{"field":"s","scale":{"paddingInner":0,"paddingOuter":0}},"y":{"field":"v","type":"quantitative","title":"%","scale":{"domain":[0,65],"range":[282,103.25],"nice":false},"axis":{"orient":"left","gridColor":{"condition":{"test":"datum.value%20","value":"#d9d9d9"},"value":"#a6a6a6"},"tickOpacity":{"condition":{"test":"datum.value%20","value":0},"value":1}}},"color":{"field":"s","title":null,"scale":{"domain":["f","m"],"range":["#4f81bd","#c0504d"]},"legend":{"labelExpr":"datum.label=='f'?'f*':'m'"}}}},{"data":{"name":"b"},"transform":[{"filter":"datum.p==8"}],"mark":{"type":"tick","opacity":0},"encoding":{"x":{"field":"c","type":"ordinal","title":null,"axis":{"orient":"top","offset":-282,"labels":false,"domain":false,"tickSize":6}}}}]}]},
{"width":255,"height":326,"title":{"text":["9. Washing","mashine spin"],"dx":50,"offset":-144},"resolve":{"scale":{"x":"independent","y":"independent"}},"layer":[{"layer":[{"data":{"values":[{}]},"mark":{"type":"rect","fill":"#fffaeb"},"encoding":{"x":{"datum":0,"type":"quantitative","scale":{"domain":[0,100],"range":[3,251],"nice":false,"zero":false},"axis":null},"x2":{"datum":100},"y":{"datum":-1,"type":"quantitative","scale":{"domain":[-1,1],"range":[86,4],"nice":false,"zero":false},"axis":null},"y2":{"datum":1}}},{"data":{"values":[{}]},"mark":{"type":"rule","strokeDash":[4,3],"color":"#8c8c8c","strokeWidth":1},"encoding":{"x":{"datum":50,"type":"quantitative","axis":null},"y":{"datum":-1,"type":"quantitative","axis":null},"y2":{"datum":1}}},{"data":{"values":[{}]},"mark":{"type":"rule","strokeDash":[4,3],"color":"#8c8c8c","strokeWidth":1},"encoding":{"x":{"datum":0,"type":"quantitative","axis":null},"x2":{"datum":100},"y":{"datum":0.55,"type":"quantitative","axis":null}}},{"data":{"values":[{}]},"mark":{"type":"rule","strokeDash":[4,3],"color":"#8c8c8c","strokeWidth":1},"encoding":{"x":{"datum":0,"type":"quantitative","axis":null},"x2":{"datum":100},"y":{"datum":-0.55,"type":"quantitative","axis":null}}},{"data":{"name":"w"},"transform":[{"filter":"datum.p==9"}],"mark":"area","encoding":{"x":{"field":"t","type":"quantitative","axis":null},"y":{"field":"h","type":"quantitative","axis":null},"y2":{"field":"l"}}},{"data":{"name":"s"},"transform":[{"filter":"datum.p==9"}],"mark":"rule","encoding":{"x":{"field":"t","type":"quantitative","axis":null},"y":{"field":"h","type":"quantitative","axis":null},"y2":{"field":"l"}}}]},{"resolve":{"axis":{"x":"independent"}},"layer":[{"data":{"name":"b"},"transform":[{"filter":"datum.p==9"},{"fold":["f","m"],"as":["s","v"]}],"mark":"bar","encoding":{"x":{"field":"c","type":"ordinal","title":null,"scale":{"domain":[1,2,3,4,5,6,7],"range":[41,250],"paddingInner":0,"paddingOuter":0},"axis":{"orient":"bottom"}},"xOffset":{"field":"s","scale":{"paddingInner":0,"paddingOuter":0}},"y":{"field":"v","type":"quantitative","title":"%","scale":{"domain":[0,65],"range":[282,103.25],"nice":false},"axis":{"orient":"left","gridColor":{"condition":{"test":"datum.value%20","value":"#d9d9d9"},"value":"#a6a6a6"},"tickOpacity":{"condition":{"test":"datum.value%20","value":0},"value":1}}},"color":{"field":"s","title":null,"scale":{"domain":["f","m"],"range":["#4f81bd","#c0504d"]}}}},{"data":{"name":"b"},"transform":[{"filter":"datum.p==9"}],"mark":{"type":"tick","opacity":0},"encoding":{"x":{"field":"c","type":"ordinal","title":null,"axis":{"orient":"top","offset":-282,"labels":false,"domain":false,"tickSize":6}}}}]}]},
{"width":255,"height":326,"title":{"text":["10. Spur gear"],"dx":51},"resolve":{"scale":{"x":"independent","y":"independent"}},"layer":[{"layer":[{"data":{"values":[{}]},"mark":{"type":"rect","fill":"#fffaeb"},"encoding":{"x":{"datum":0,"type":"quantitative","scale":{"domain":[0,100],"range":[3,251],"nice":false,"zero":false},"axis":null},"x2":{"datum":100},"y":{"datum":-1,"type":"quantitative","scale":{"domain":[-1,1],"range":[86,4],"nice":false,"zero":false},"axis":null},"y2":{"datum":1}}},{"data":{"values":[{}]},"mark":{"type":"rule","strokeDash":[4,3],"color":"#8c8c8c","strokeWidth":1},"encoding":{"x":{"datum":50,"type":"quantitative","axis":null},"y":{"datum":-1,"type":"quantitative","axis":null},"y2":{"datum":1}}},{"data":{"values":[{}]},"mark":{"type":"rule","strokeDash":[4,3],"color":"#8c8c8c","strokeWidth":1},"encoding":{"x":{"datum":0,"type":"quantitative","axis":null},"x2":{"datum":100},"y":{"datum":0.55,"type":"quantitative","axis":null}}},{"data":{"values":[{}]},"mark":{"type":"rule","strokeDash":[4,3],"color":"#8c8c8c","strokeWidth":1},"encoding":{"x":{"datum":0,"type":"quantitative","axis":null},"x2":{"datum":100},"y":{"datum":-0.55,"type":"quantitative","axis":null}}},{"data":{"name":"w"},"transform":[{"filter":"datum.p==10"}],"mark":"area","encoding":{"x":{"field":"t","type":"quantitative","axis":null},"y":{"field":"h","type":"quantitative","axis":null},"y2":{"field":"l"}}},{"data":{"name":"s"},"transform":[{"filter":"datum.p==10"}],"mark":"rule","encoding":{"x":{"field":"t","type":"quantitative","axis":null},"y":{"field":"h","type":"quantitative","axis":null},"y2":{"field":"l"}}}]},{"resolve":{"axis":{"x":"independent"}},"layer":[{"data":{"name":"b"},"transform":[{"filter":"datum.p==10"},{"fold":["f","m"],"as":["s","v"]}],"mark":"bar","encoding":{"x":{"field":"c","type":"ordinal","title":null,"scale":{"domain":[1,2,3,4,5,6,7],"range":[41,250],"paddingInner":0,"paddingOuter":0},"axis":{"orient":"bottom"}},"xOffset":{"field":"s","scale":{"paddingInner":0,"paddingOuter":0}},"y":{"field":"v","type":"quantitative","title":"%","scale":{"domain":[0,65],"range":[282,103.25],"nice":false},"axis":{"orient":"left","gridColor":{"condition":{"test":"datum.value%20","value":"#d9d9d9"},"value":"#a6a6a6"},"tickOpacity":{"condition":{"test":"datum.value%20","value":0},"value":1}}},"color":{"field":"s","title":null,"scale":{"domain":["f","m"],"range":["#4f81bd","#c0504d"]}}}},{"data":{"name":"b"},"transform":[{"filter":"datum.p==10"}],"mark":{"type":"tick","opacity":0},"encoding":{"x":{"field":"c","type":"ordinal","title":null,"axis":{"orient":"top","offset":-282,"labels":false,"domain":false,"tickSize":6}}}}]}]},
{"width":255,"height":326,"title":{"text":["11. Murmuring","brook"],"dx":50,"offset":-144},"resolve":{"scale":{"x":"independent","y":"independent"}},"layer":[{"layer":[{"data":{"values":[{}]},"mark":{"type":"rect","fill":"#fffaeb"},"encoding":{"x":{"datum":0,"type":"quantitative","scale":{"domain":[0,100],"range":[3,251],"nice":false,"zero":false},"axis":null},"x2":{"datum":100},"y":{"datum":-1,"type":"quantitative","scale":{"domain":[-1,1],"range":[86,4],"nice":false,"zero":false},"axis":null},"y2":{"datum":1}}},{"data":{"values":[{}]},"mark":{"type":"rule","strokeDash":[4,3],"color":"#8c8c8c","strokeWidth":1},"encoding":{"x":{"datum":50,"type":"quantitative","axis":null},"y":{"datum":-1,"type":"quantitative","axis":null},"y2":{"datum":1}}},{"data":{"values":[{}]},"mark":{"type":"rule","strokeDash":[4,3],"color":"#8c8c8c","strokeWidth":1},"encoding":{"x":{"datum":0,"type":"quantitative","axis":null},"x2":{"datum":100},"y":{"datum":0.55,"type":"quantitative","axis":null}}},{"data":{"values":[{}]},"mark":{"type":"rule","strokeDash":[4,3],"color":"#8c8c8c","strokeWidth":1},"encoding":{"x":{"datum":0,"type":"quantitative","axis":null},"x2":{"datum":100},"y":{"datum":-0.55,"type":"quantitative","axis":null}}},{"data":{"name":"w"},"transform":[{"filter":"datum.p==11"}],"mark":"area","encoding":{"x":{"field":"t","type":"quantitative","axis":null},"y":{"field":"h","type":"quantitative","axis":null},"y2":{"field":"l"}}},{"data":{"name":"s"},"transform":[{"filter":"datum.p==11"}],"mark":"rule","encoding":{"x":{"field":"t","type":"quantitative","axis":null},"y":{"field":"h","type":"quantitative","axis":null},"y2":{"field":"l"}}}]},{"resolve":{"axis":{"x":"independent"}},"layer":[{"data":{"name":"b"},"transform":[{"filter":"datum.p==11"},{"fold":["f","m"],"as":["s","v"]}],"mark":"bar","encoding":{"x":{"field":"c","type":"ordinal","title":null,"scale":{"domain":[1,2,3,4,5,6,7],"range":[41,250],"paddingInner":0,"paddingOuter":0},"axis":{"orient":"bottom"}},"xOffset":{"field":"s","scale":{"paddingInner":0,"paddingOuter":0}},"y":{"field":"v","type":"quantitative","title":"%","scale":{"domain":[0,65],"range":[282,103.25],"nice":false},"axis":{"orient":"left","gridColor":{"condition":{"test":"datum.value%20","value":"#d9d9d9"},"value":"#a6a6a6"},"tickOpacity":{"condition":{"test":"datum.value%20","value":0},"value":1}}},"color":{"field":"s","title":null,"scale":{"domain":["f","m"],"range":["#4f81bd","#c0504d"]}}}},{"data":{"name":"b"},"transform":[{"filter":"datum.p==11"}],"mark":{"type":"tick","opacity":0},"encoding":{"x":{"field":"c","type":"ordinal","title":null,"axis":{"orient":"top","offset":-282,"labels":false,"domain":false,"tickSize":6}}}}]}]},
{"width":255,"height":326,"title":{"text":["12. Scraping nails"],"dx":42},"resolve":{"scale":{"x":"independent","y":"independent"}},"layer":[{"layer":[{"data":{"values":[{}]},"mark":{"type":"rect","fill":"#fffaeb"},"encoding":{"x":{"datum":0,"type":"quantitative","scale":{"domain":[0,100],"range":[3,251],"nice":false,"zero":false},"axis":null},"x2":{"datum":100},"y":{"datum":-1,"type":"quantitative","scale":{"domain":[-1,1],"range":[86,4],"nice":false,"zero":false},"axis":null},"y2":{"datum":1}}},{"data":{"values":[{}]},"mark":{"type":"rule","strokeDash":[4,3],"color":"#8c8c8c","strokeWidth":1},"encoding":{"x":{"datum":50,"type":"quantitative","axis":null},"y":{"datum":-1,"type":"quantitative","axis":null},"y2":{"datum":1}}},{"data":{"values":[{}]},"mark":{"type":"rule","strokeDash":[4,3],"color":"#8c8c8c","strokeWidth":1},"encoding":{"x":{"datum":0,"type":"quantitative","axis":null},"x2":{"datum":100},"y":{"datum":0.55,"type":"quantitative","axis":null}}},{"data":{"values":[{}]},"mark":{"type":"rule","strokeDash":[4,3],"color":"#8c8c8c","strokeWidth":1},"encoding":{"x":{"datum":0,"type":"quantitative","axis":null},"x2":{"datum":100},"y":{"datum":-0.55,"type":"quantitative","axis":null}}},{"data":{"name":"w"},"transform":[{"filter":"datum.p==12"}],"mark":"area","encoding":{"x":{"field":"t","type":"quantitative","axis":null},"y":{"field":"h","type":"quantitative","axis":null},"y2":{"field":"l"}}},{"data":{"name":"s"},"transform":[{"filter":"datum.p==12"}],"mark":"rule","encoding":{"x":{"field":"t","type":"quantitative","axis":null},"y":{"field":"h","type":"quantitative","axis":null},"y2":{"field":"l"}}}]},{"resolve":{"axis":{"x":"independent"}},"layer":[{"data":{"name":"b"},"transform":[{"filter":"datum.p==12"},{"fold":["f","m"],"as":["s","v"]}],"mark":"bar","encoding":{"x":{"field":"c","type":"ordinal","title":null,"scale":{"domain":[1,2,3,4,5,6,7],"range":[41,250],"paddingInner":0,"paddingOuter":0},"axis":{"orient":"bottom"}},"xOffset":{"field":"s","scale":{"paddingInner":0,"paddingOuter":0}},"y":{"field":"v","type":"quantitative","title":"%","scale":{"domain":[0,65],"range":[282,103.25],"nice":false},"axis":{"orient":"left","gridColor":{"condition":{"test":"datum.value%20","value":"#d9d9d9"},"value":"#a6a6a6"},"tickOpacity":{"condition":{"test":"datum.value%20","value":0},"value":1}}},"color":{"field":"s","title":null,"scale":{"domain":["f","m"],"range":["#4f81bd","#c0504d"]},"legend":{"labelExpr":"datum.label=='f'?'f*':'m'"}}}},{"data":{"name":"b"},"transform":[{"filter":"datum.p==12"}],"mark":{"type":"tick","opacity":0},"encoding":{"x":{"field":"c","type":"ordinal","title":null,"axis":{"orient":"top","offset":-282,"labels":false,"domain":false,"tickSize":6}}}}]}]},
{"width":255,"height":326,"title":{"text":["13. Bat squeak:","noctule bat"],"dx":50,"offset":-144},"resolve":{"scale":{"x":"independent","y":"independent"}},"layer":[{"layer":[{"data":{"values":[{}]},"mark":{"type":"rect","fill":"#fffaeb"},"encoding":{"x":{"datum":0,"type":"quantitative","scale":{"domain":[0,100],"range":[3,251],"nice":false,"zero":false},"axis":null},"x2":{"datum":100},"y":{"datum":-1,"type":"quantitative","scale":{"domain":[-1,1],"range":[86,4],"nice":false,"zero":false},"axis":null},"y2":{"datum":1}}},{"data":{"values":[{}]},"mark":{"type":"rule","strokeDash":[4,3],"color":"#8c8c8c","strokeWidth":1},"encoding":{"x":{"datum":50,"type":"quantitative","axis":null},"y":{"datum":-1,"type":"quantitative","axis":null},"y2":{"datum":1}}},{"data":{"values":[{}]},"mark":{"type":"rule","strokeDash":[4,3],"color":"#8c8c8c","strokeWidth":1},"encoding":{"x":{"datum":0,"type":"quantitative","axis":null},"x2":{"datum":100},"y":{"datum":0.55,"type":"quantitative","axis":null}}},{"data":{"values":[{}]},"mark":{"type":"rule","strokeDash":[4,3],"color":"#8c8c8c","strokeWidth":1},"encoding":{"x":{"datum":0,"type":"quantitative","axis":null},"x2":{"datum":100},"y":{"datum":-0.55,"type":"quantitative","axis":null}}},{"data":{"name":"w"},"transform":[{"filter":"datum.p==13"}],"mark":"area","encoding":{"x":{"field":"t","type":"quantitative","axis":null},"y":{"field":"h","type":"quantitative","axis":null},"y2":{"field":"l"}}},{"data":{"name":"s"},"transform":[{"filter":"datum.p==13"}],"mark":{"type":"rule","strokeWidth":2},"encoding":{"x":{"field":"t","type":"quantitative","axis":null},"y":{"field":"h","type":"quantitative","axis":null},"y2":{"field":"l"}}}]},{"resolve":{"axis":{"x":"independent"}},"layer":[{"data":{"name":"b"},"transform":[{"filter":"datum.p==13"},{"fold":["f","m"],"as":["s","v"]}],"mark":"bar","encoding":{"x":{"field":"c","type":"ordinal","title":null,"scale":{"domain":[1,2,3,4,5,6,7],"range":[41,250],"paddingInner":0,"paddingOuter":0},"axis":{"orient":"bottom"}},"xOffset":{"field":"s","scale":{"paddingInner":0,"paddingOuter":0}},"y":{"field":"v","type":"quantitative","title":"%","scale":{"domain":[0,65],"range":[282,103.25],"nice":false},"axis":{"orient":"left","gridColor":{"condition":{"test":"datum.value%20","value":"#d9d9d9"},"value":"#a6a6a6"},"tickOpacity":{"condition":{"test":"datum.value%20","value":0},"value":1}}},"color":{"field":"s","title":null,"scale":{"domain":["f","m"],"range":["#4f81bd","#c0504d"]}}}},{"data":{"name":"b"},"transform":[{"filter":"datum.p==13"}],"mark":{"type":"tick","opacity":0},"encoding":{"x":{"field":"c","type":"ordinal","title":null,"axis":{"orient":"top","offset":-282,"labels":false,"domain":false,"tickSize":6}}}}]}]},
{"width":255,"height":326,"title":{"text":["14. Screech of sand"],"dx":33,"offset":-119},"resolve":{"scale":{"x":"independent","y":"independent"}},"layer":[{"layer":[{"data":{"values":[{}]},"mark":{"type":"rect","fill":"#fffaeb"},"encoding":{"x":{"datum":0,"type":"quantitative","scale":{"domain":[0,100],"range":[3,251],"nice":false,"zero":false},"axis":null},"x2":{"datum":100},"y":{"datum":-1,"type":"quantitative","scale":{"domain":[-1,1],"range":[86,4],"nice":false,"zero":false},"axis":null},"y2":{"datum":1}}},{"data":{"values":[{}]},"mark":{"type":"rule","strokeDash":[4,3],"color":"#8c8c8c","strokeWidth":1},"encoding":{"x":{"datum":50,"type":"quantitative","axis":null},"y":{"datum":-1,"type":"quantitative","axis":null},"y2":{"datum":1}}},{"data":{"values":[{}]},"mark":{"type":"rule","strokeDash":[4,3],"color":"#8c8c8c","strokeWidth":1},"encoding":{"x":{"datum":0,"type":"quantitative","axis":null},"x2":{"datum":100},"y":{"datum":0.55,"type":"quantitative","axis":null}}},{"data":{"values":[{}]},"mark":{"type":"rule","strokeDash":[4,3],"color":"#8c8c8c","strokeWidth":1},"encoding":{"x":{"datum":0,"type":"quantitative","axis":null},"x2":{"datum":100},"y":{"datum":-0.55,"type":"quantitative","axis":null}}},{"data":{"name":"w"},"transform":[{"filter":"datum.p==14"}],"mark":"area","encoding":{"x":{"field":"t","type":"quantitative","axis":null},"y":{"field":"h","type":"quantitative","axis":null},"y2":{"field":"l"}}},{"data":{"name":"s"},"transform":[{"filter":"datum.p==14"}],"mark":"rule","encoding":{"x":{"field":"t","type":"quantitative","axis":null},"y":{"field":"h","type":"quantitative","axis":null},"y2":{"field":"l"}}}]},{"resolve":{"axis":{"x":"independent"}},"layer":[{"data":{"name":"b"},"transform":[{"filter":"datum.p==14"},{"fold":["f","m"],"as":["s","v"]}],"mark":"bar","encoding":{"x":{"field":"c","type":"ordinal","title":null,"scale":{"domain":[1,2,3,4,5,6,7],"range":[41,250],"paddingInner":0,"paddingOuter":0},"axis":{"orient":"bottom"}},"xOffset":{"field":"s","scale":{"paddingInner":0,"paddingOuter":0}},"y":{"field":"v","type":"quantitative","title":"%","scale":{"domain":[0,65],"range":[282,103.25],"nice":false},"axis":{"orient":"left","gridColor":{"condition":{"test":"datum.value%20","value":"#d9d9d9"},"value":"#a6a6a6"},"tickOpacity":{"condition":{"test":"datum.value%20","value":0},"value":1}}},"color":{"field":"s","title":null,"scale":{"domain":["f","m"],"range":["#4f81bd","#c0504d"]},"legend":{"labelExpr":"datum.label=='f'?'f*':'m'"}}}},{"data":{"name":"b"},"transform":[{"filter":"datum.p==14"}],"mark":{"type":"tick","opacity":0},"encoding":{"x":{"field":"c","type":"ordinal","title":null,"axis":{"orient":"top","offset":-282,"labels":false,"domain":false,"tickSize":6}}}}]}]},
{"width":255,"height":326,"title":{"text":["15. Piano piece"],"dx":64,"offset":-119},"resolve":{"scale":{"x":"independent","y":"independent"}},"layer":[{"layer":[{"data":{"values":[{}]},"mark":{"type":"rect","fill":"#fffaeb"},"encoding":{"x":{"datum":0,"type":"quantitative","scale":{"domain":[0,100],"range":[3,251],"nice":false,"zero":false},"axis":null},"x2":{"datum":100},"y":{"datum":-1,"type":"quantitative","scale":{"domain":[-1,1],"range":[86,4],"nice":false,"zero":false},"axis":null},"y2":{"datum":1}}},{"data":{"values":[{}]},"mark":{"type":"rule","strokeDash":[4,3],"color":"#8c8c8c","strokeWidth":1},"encoding":{"x":{"datum":50,"type":"quantitative","axis":null},"y":{"datum":-1,"type":"quantitative","axis":null},"y2":{"datum":1}}},{"data":{"values":[{}]},"mark":{"type":"rule","strokeDash":[4,3],"color":"#8c8c8c","strokeWidth":1},"encoding":{"x":{"datum":0,"type":"quantitative","axis":null},"x2":{"datum":100},"y":{"datum":0.55,"type":"quantitative","axis":null}}},{"data":{"values":[{}]},"mark":{"type":"rule","strokeDash":[4,3],"color":"#8c8c8c","strokeWidth":1},"encoding":{"x":{"datum":0,"type":"quantitative","axis":null},"x2":{"datum":100},"y":{"datum":-0.55,"type":"quantitative","axis":null}}},{"data":{"name":"w"},"transform":[{"filter":"datum.p==15"}],"mark":"area","encoding":{"x":{"field":"t","type":"quantitative","axis":null},"y":{"field":"h","type":"quantitative","axis":null},"y2":{"field":"l"}}},{"data":{"name":"s"},"transform":[{"filter":"datum.p==15"}],"mark":"rule","encoding":{"x":{"field":"t","type":"quantitative","axis":null},"y":{"field":"h","type":"quantitative","axis":null},"y2":{"field":"l"}}}]},{"resolve":{"axis":{"x":"independent"}},"layer":[{"data":{"name":"b"},"transform":[{"filter":"datum.p==15"},{"fold":["f","m"],"as":["s","v"]}],"mark":"bar","encoding":{"x":{"field":"c","type":"ordinal","title":null,"scale":{"domain":[1,2,3,4,5,6,7],"range":[41,250],"paddingInner":0,"paddingOuter":0},"axis":{"orient":"bottom"}},"xOffset":{"field":"s","scale":{"paddingInner":0,"paddingOuter":0}},"y":{"field":"v","type":"quantitative","title":"%","scale":{"domain":[0,65],"range":[282,103.25],"nice":false},"axis":{"orient":"left","gridColor":{"condition":{"test":"datum.value%20","value":"#d9d9d9"},"value":"#a6a6a6"},"tickOpacity":{"condition":{"test":"datum.value%20","value":0},"value":1}}},"color":{"field":"s","title":null,"scale":{"domain":["f","m"],"range":["#4f81bd","#c0504d"]}}}},{"data":{"name":"b"},"transform":[{"filter":"datum.p==15"}],"mark":{"type":"tick","opacity":0},"encoding":{"x":{"field":"c","type":"ordinal","title":null,"axis":{"orient":"top","offset":-282,"labels":false,"domain":false,"tickSize":6}}}}]}]},
{"width":255,"height":326,"title":{"text":["16. Squeaking","hinge"],"dx":49,"offset":-146},"resolve":{"scale":{"x":"independent","y":"independent"}},"layer":[{"layer":[{"data":{"values":[{}]},"mark":{"type":"rect","fill":"#fffaeb"},"encoding":{"x":{"datum":0,"type":"quantitative","scale":{"domain":[0,100],"range":[3,251],"nice":false,"zero":false},"axis":null},"x2":{"datum":100},"y":{"datum":-1,"type":"quantitative","scale":{"domain":[-1,1],"range":[86,4],"nice":false,"zero":false},"axis":null},"y2":{"datum":1}}},{"data":{"values":[{}]},"mark":{"type":"rule","strokeDash":[4,3],"color":"#8c8c8c","strokeWidth":1},"encoding":{"x":{"datum":50,"type":"quantitative","axis":null},"y":{"datum":-1,"type":"quantitative","axis":null},"y2":{"datum":1}}},{"data":{"values":[{}]},"mark":{"type":"rule","strokeDash":[4,3],"color":"#8c8c8c","strokeWidth":1},"encoding":{"x":{"datum":0,"type":"quantitative","axis":null},"x2":{"datum":100},"y":{"datum":0.55,"type":"quantitative","axis":null}}},{"data":{"values":[{}]},"mark":{"type":"rule","strokeDash":[4,3],"color":"#8c8c8c","strokeWidth":1},"encoding":{"x":{"datum":0,"type":"quantitative","axis":null},"x2":{"datum":100},"y":{"datum":-0.55,"type":"quantitative","axis":null}}},{"data":{"name":"w"},"transform":[{"filter":"datum.p==16"}],"mark":"area","encoding":{"x":{"field":"t","type":"quantitative","axis":null},"y":{"field":"h","type":"quantitative","axis":null},"y2":{"field":"l"}}},{"data":{"name":"s"},"transform":[{"filter":"datum.p==16"}],"mark":"rule","encoding":{"x":{"field":"t","type":"quantitative","axis":null},"y":{"field":"h","type":"quantitative","axis":null},"y2":{"field":"l"}}}]},{"resolve":{"axis":{"x":"independent"}},"layer":[{"data":{"name":"b"},"transform":[{"filter":"datum.p==16"},{"fold":["f","m"],"as":["s","v"]}],"mark":"bar","encoding":{"x":{"field":"c","type":"ordinal","title":null,"scale":{"domain":[1,2,3,4,5,6,7],"range":[41,250],"paddingInner":0,"paddingOuter":0},"axis":{"orient":"bottom"}},"xOffset":{"field":"s","scale":{"paddingInner":0,"paddingOuter":0}},"y":{"field":"v","type":"quantitative","title":"%","scale":{"domain":[0,65],"range":[282,103.25],"nice":false},"axis":{"orient":"left","gridColor":{"condition":{"test":"datum.value%20","value":"#d9d9d9"},"value":"#a6a6a6"},"tickOpacity":{"condition":{"test":"datum.value%20","value":0},"value":1}}},"color":{"field":"s","title":null,"scale":{"domain":["f","m"],"range":["#4f81bd","#c0504d"]}}}},{"data":{"name":"b"},"transform":[{"filter":"datum.p==16"}],"mark":{"type":"tick","opacity":0},"encoding":{"x":{"field":"c","type":"ordinal","title":null,"axis":{"orient":"top","offset":-282,"labels":false,"domain":false,"tickSize":6}}}}]}]},
{"width":255,"height":326,"title":{"text":["17. Scraping fork","(slow)"],"dx":43,"offset":-146},"resolve":{"scale":{"x":"independent","y":"independent"}},"layer":[{"layer":[{"data":{"values":[{}]},"mark":{"type":"rect","fill":"#fffaeb"},"encoding":{"x":{"datum":0,"type":"quantitative","scale":{"domain":[0,100],"range":[3,251],"nice":false,"zero":false},"axis":null},"x2":{"datum":100},"y":{"datum":-1,"type":"quantitative","scale":{"domain":[-1,1],"range":[86,4],"nice":false,"zero":false},"axis":null},"y2":{"datum":1}}},{"data":{"values":[{}]},"mark":{"type":"rule","strokeDash":[4,3],"color":"#8c8c8c","strokeWidth":1},"encoding":{"x":{"datum":50,"type":"quantitative","axis":null},"y":{"datum":-1,"type":"quantitative","axis":null},"y2":{"datum":1}}},{"data":{"values":[{}]},"mark":{"type":"rule","strokeDash":[4,3],"color":"#8c8c8c","strokeWidth":1},"encoding":{"x":{"datum":0,"type":"quantitative","axis":null},"x2":{"datum":100},"y":{"datum":0.55,"type":"quantitative","axis":null}}},{"data":{"values":[{}]},"mark":{"type":"rule","strokeDash":[4,3],"color":"#8c8c8c","strokeWidth":1},"encoding":{"x":{"datum":0,"type":"quantitative","axis":null},"x2":{"datum":100},"y":{"datum":-0.55,"type":"quantitative","axis":null}}},{"data":{"name":"w"},"transform":[{"filter":"datum.p==17"}],"mark":"area","encoding":{"x":{"field":"t","type":"quantitative","axis":null},"y":{"field":"h","type":"quantitative","axis":null},"y2":{"field":"l"}}},{"data":{"name":"s"},"transform":[{"filter":"datum.p==17"}],"mark":"rule","encoding":{"x":{"field":"t","type":"quantitative","axis":null},"y":{"field":"h","type":"quantitative","axis":null},"y2":{"field":"l"}}}]},{"resolve":{"axis":{"x":"independent"}},"layer":[{"data":{"name":"b"},"transform":[{"filter":"datum.p==17"},{"fold":["f","m"],"as":["s","v"]}],"mark":"bar","encoding":{"x":{"field":"c","type":"ordinal","title":null,"scale":{"domain":[1,2,3,4,5,6,7],"range":[41,250],"paddingInner":0,"paddingOuter":0},"axis":{"orient":"bottom"}},"xOffset":{"field":"s","scale":{"paddingInner":0,"paddingOuter":0}},"y":{"field":"v","type":"quantitative","title":"%","scale":{"domain":[0,65],"range":[282,103.25],"nice":false},"axis":{"orient":"left","gridColor":{"condition":{"test":"datum.value%20","value":"#d9d9d9"},"value":"#a6a6a6"},"tickOpacity":{"condition":{"test":"datum.value%20","value":0},"value":1}}},"color":{"field":"s","title":null,"scale":{"domain":["f","m"],"range":["#4f81bd","#c0504d"]},"legend":{"labelExpr":"datum.label=='f'?'f*':'m'"}}}},{"data":{"name":"b"},"transform":[{"filter":"datum.p==17"}],"mark":{"type":"tick","opacity":0},"encoding":{"x":{"field":"c","type":"ordinal","title":null,"axis":{"orient":"top","offset":-282,"labels":false,"domain":false,"tickSize":6}}}}]}]},
{"width":255,"height":326,"title":{"text":["18. Highway noise"],"dx":44,"offset":-118},"resolve":{"scale":{"x":"independent","y":"independent"}},"layer":[{"layer":[{"data":{"values":[{}]},"mark":{"type":"rect","fill":"#fffaeb"},"encoding":{"x":{"datum":0,"type":"quantitative","scale":{"domain":[0,100],"range":[3,251],"nice":false,"zero":false},"axis":null},"x2":{"datum":100},"y":{"datum":-1,"type":"quantitative","scale":{"domain":[-1,1],"range":[86,4],"nice":false,"zero":false},"axis":null},"y2":{"datum":1}}},{"data":{"values":[{}]},"mark":{"type":"rule","strokeDash":[4,3],"color":"#8c8c8c","strokeWidth":1},"encoding":{"x":{"datum":50,"type":"quantitative","axis":null},"y":{"datum":-1,"type":"quantitative","axis":null},"y2":{"datum":1}}},{"data":{"values":[{}]},"mark":{"type":"rule","strokeDash":[4,3],"color":"#8c8c8c","strokeWidth":1},"encoding":{"x":{"datum":0,"type":"quantitative","axis":null},"x2":{"datum":100},"y":{"datum":0.55,"type":"quantitative","axis":null}}},{"data":{"values":[{}]},"mark":{"type":"rule","strokeDash":[4,3],"color":"#8c8c8c","strokeWidth":1},"encoding":{"x":{"datum":0,"type":"quantitative","axis":null},"x2":{"datum":100},"y":{"datum":-0.55,"type":"quantitative","axis":null}}},{"data":{"name":"w"},"transform":[{"filter":"datum.p==18"}],"mark":"area","encoding":{"x":{"field":"t","type":"quantitative","axis":null},"y":{"field":"h","type":"quantitative","axis":null},"y2":{"field":"l"}}},{"data":{"name":"s"},"transform":[{"filter":"datum.p==18"}],"mark":"rule","encoding":{"x":{"field":"t","type":"quantitative","axis":null},"y":{"field":"h","type":"quantitative","axis":null},"y2":{"field":"l"}}}]},{"resolve":{"axis":{"x":"independent"}},"layer":[{"data":{"name":"b"},"transform":[{"filter":"datum.p==18"},{"fold":["f","m"],"as":["s","v"]}],"mark":"bar","encoding":{"x":{"field":"c","type":"ordinal","title":null,"scale":{"domain":[1,2,3,4,5,6,7],"range":[41,250],"paddingInner":0,"paddingOuter":0},"axis":{"orient":"bottom"}},"xOffset":{"field":"s","scale":{"paddingInner":0,"paddingOuter":0}},"y":{"field":"v","type":"quantitative","title":"%","scale":{"domain":[0,65],"range":[282,103.25],"nice":false},"axis":{"orient":"left","gridColor":{"condition":{"test":"datum.value%20","value":"#d9d9d9"},"value":"#a6a6a6"},"tickOpacity":{"condition":{"test":"datum.value%20","value":0},"value":1}}},"color":{"field":"s","title":null,"scale":{"domain":["f","m"],"range":["#4f81bd","#c0504d"]}}}},{"data":{"name":"b"},"transform":[{"filter":"datum.p==18"}],"mark":{"type":"tick","opacity":0},"encoding":{"x":{"field":"c","type":"ordinal","title":null,"axis":{"orient":"top","offset":-282,"labels":false,"domain":false,"tickSize":6}}}}]}]},
{"width":255,"height":326,"title":{"text":["19. Styrofoam","squeak"],"dx":50,"offset":-146},"resolve":{"scale":{"x":"independent","y":"independent"}},"layer":[{"layer":[{"data":{"values":[{}]},"mark":{"type":"rect","fill":"#fffaeb"},"encoding":{"x":{"datum":0,"type":"quantitative","scale":{"domain":[0,100],"range":[3,251],"nice":false,"zero":false},"axis":null},"x2":{"datum":100},"y":{"datum":-1,"type":"quantitative","scale":{"domain":[-1,1],"range":[86,4],"nice":false,"zero":false},"axis":null},"y2":{"datum":1}}},{"data":{"values":[{}]},"mark":{"type":"rule","strokeDash":[4,3],"color":"#8c8c8c","strokeWidth":1},"encoding":{"x":{"datum":50,"type":"quantitative","axis":null},"y":{"datum":-1,"type":"quantitative","axis":null},"y2":{"datum":1}}},{"data":{"values":[{}]},"mark":{"type":"rule","strokeDash":[4,3],"color":"#8c8c8c","strokeWidth":1},"encoding":{"x":{"datum":0,"type":"quantitative","axis":null},"x2":{"datum":100},"y":{"datum":0.55,"type":"quantitative","axis":null}}},{"data":{"values":[{}]},"mark":{"type":"rule","strokeDash":[4,3],"color":"#8c8c8c","strokeWidth":1},"encoding":{"x":{"datum":0,"type":"quantitative","axis":null},"x2":{"datum":100},"y":{"datum":-0.55,"type":"quantitative","axis":null}}},{"data":{"name":"w"},"transform":[{"filter":"datum.p==19"}],"mark":"area","encoding":{"x":{"field":"t","type":"quantitative","axis":null},"y":{"field":"h","type":"quantitative","axis":null},"y2":{"field":"l"}}},{"data":{"name":"s"},"transform":[{"filter":"datum.p==19"}],"mark":"rule","encoding":{"x":{"field":"t","type":"quantitative","axis":null},"y":{"field":"h","type":"quantitative","axis":null},"y2":{"field":"l"}}}]},{"resolve":{"axis":{"x":"independent"}},"layer":[{"data":{"name":"b"},"transform":[{"filter":"datum.p==19"},{"fold":["f","m"],"as":["s","v"]}],"mark":"bar","encoding":{"x":{"field":"c","type":"ordinal","title":null,"scale":{"domain":[1,2,3,4,5,6,7],"range":[41,250],"paddingInner":0,"paddingOuter":0},"axis":{"orient":"bottom"}},"xOffset":{"field":"s","scale":{"paddingInner":0,"paddingOuter":0}},"y":{"field":"v","type":"quantitative","title":"%","scale":{"domain":[0,65],"range":[282,103.25],"nice":false},"axis":{"orient":"left","gridColor":{"condition":{"test":"datum.value%20","value":"#d9d9d9"},"value":"#a6a6a6"},"tickOpacity":{"condition":{"test":"datum.value%20","value":0},"value":1}}},"color":{"field":"s","title":null,"scale":{"domain":["f","m"],"range":["#4f81bd","#c0504d"]},"legend":{"labelExpr":"datum.label=='f'?'f*':'m'"}}}},{"data":{"name":"b"},"transform":[{"filter":"datum.p==19"}],"mark":{"type":"tick","opacity":0},"encoding":{"x":{"field":"c","type":"ordinal","title":null,"axis":{"orient":"top","offset":-282,"labels":false,"domain":false,"tickSize":6}}}}]}]},
{"width":255,"height":326,"title":{"text":["20. Birdsong:","\u200b\u00a0\u00a0\u00a0\u00a0\u00a0\u00a0\u00a0\u00a0\u00a0\u00a0blackcap"],"dx":42,"offset":-146},"resolve":{"scale":{"x":"independent","y":"independent"}},"layer":[{"layer":[{"data":{"values":[{}]},"mark":{"type":"rect","fill":"#fffaeb"},"encoding":{"x":{"datum":0,"type":"quantitative","scale":{"domain":[0,100],"range":[3,251],"nice":false,"zero":false},"axis":null},"x2":{"datum":100},"y":{"datum":-1,"type":"quantitative","scale":{"domain":[-1,1],"range":[86,4],"nice":false,"zero":false},"axis":null},"y2":{"datum":1}}},{"data":{"values":[{}]},"mark":{"type":"rule","strokeDash":[4,3],"color":"#8c8c8c","strokeWidth":1},"encoding":{"x":{"datum":50,"type":"quantitative","axis":null},"y":{"datum":-1,"type":"quantitative","axis":null},"y2":{"datum":1}}},{"data":{"values":[{}]},"mark":{"type":"rule","strokeDash":[4,3],"color":"#8c8c8c","strokeWidth":1},"encoding":{"x":{"datum":0,"type":"quantitative","axis":null},"x2":{"datum":100},"y":{"datum":0.55,"type":"quantitative","axis":null}}},{"data":{"values":[{}]},"mark":{"type":"rule","strokeDash":[4,3],"color":"#8c8c8c","strokeWidth":1},"encoding":{"x":{"datum":0,"type":"quantitative","axis":null},"x2":{"datum":100},"y":{"datum":-0.55,"type":"quantitative","axis":null}}},{"data":{"name":"w"},"transform":[{"filter":"datum.p==20"}],"mark":"area","encoding":{"x":{"field":"t","type":"quantitative","axis":null},"y":{"field":"h","type":"quantitative","axis":null},"y2":{"field":"l"}}},{"data":{"name":"s"},"transform":[{"filter":"datum.p==20"}],"mark":"rule","encoding":{"x":{"field":"t","type":"quantitative","axis":null},"y":{"field":"h","type":"quantitative","axis":null},"y2":{"field":"l"}}}]},{"resolve":{"axis":{"x":"independent"}},"layer":[{"data":{"name":"b"},"transform":[{"filter":"datum.p==20"},{"fold":["f","m"],"as":["s","v"]}],"mark":"bar","encoding":{"x":{"field":"c","type":"ordinal","title":null,"scale":{"domain":[1,2,3,4,5,6,7],"range":[41,250],"paddingInner":0,"paddingOuter":0},"axis":{"orient":"bottom"}},"xOffset":{"field":"s","scale":{"paddingInner":0,"paddingOuter":0}},"y":{"field":"v","type":"quantitative","title":"%","scale":{"domain":[0,65],"range":[282,103.25],"nice":false},"axis":{"orient":"left","gridColor":{"condition":{"test":"datum.value%20","value":"#d9d9d9"},"value":"#a6a6a6"},"tickOpacity":{"condition":{"test":"datum.value%20","value":0},"value":1}}},"color":{"field":"s","title":null,"scale":{"domain":["f","m"],"range":["#4f81bd","#c0504d"]},"legend":{"labelExpr":"datum.label=='m'?'m*':'f'"}}}},{"data":{"name":"b"},"transform":[{"filter":"datum.p==20"}],"mark":{"type":"tick","opacity":0},"encoding":{"x":{"field":"c","type":"ordinal","title":null,"axis":{"orient":"top","offset":-282,"labels":false,"domain":false,"tickSize":6}}}}]}]}
],
"config":{
"font":"Lato",
"view":{"stroke":"#8c8c8c","strokeWidth":2},
"bar":{"stroke":"#000000","strokeWidth":1.2},
"area":{"color":"#000000","stroke":"#000000","strokeWidth":0.8},
"rule":{"color":"#000000","strokeWidth":1.2},
"axisX":{"offset":-44,"domainColor":"#9dbfe0","domainWidth":3,"tickColor":"#9dbfe0","tickWidth":3,"tickSize":7,"tickBand":"extent","labelFontSize":18,"labelPadding":11,"labelColor":"#000000","labelAngle":0,"grid":false,"zindex":1},
"axisY":{"offset":-41,"domainColor":"#8c8c8c","tickColor":"#8c8c8c","tickSize":7,"tickCount":7,"labelFontSize":16,"labelPadding":9,"labelColor":"#000000","labelExpr":"datum.value % 20 ? '' : datum.label","grid":true,"gridWidth":1,"titleAngle":0,"titleX":-35,"titleY":96,"titleAlign":"left","titleBaseline":"alphabetic","titleFontSize":20,"titleFontWeight":"normal","titleColor":"#000000"},
"legend":{"orient":"none","legendX":209,"legendY":86,"symbolType":"square","symbolSize":210,"symbolStrokeColor":"#222222","symbolStrokeWidth":1.5,"labelFontSize":24,"labelOffset":4,"rowPadding":4,"padding":6,"fillColor":"#ffffff","labelColor":"#000000"},
"title":{"anchor":"start","frame":"group","offset":-116,"baseline":"alphabetic","fontSize":19,"fontWeight":800,"lineHeight":28,"color":"#000000"}
}}
